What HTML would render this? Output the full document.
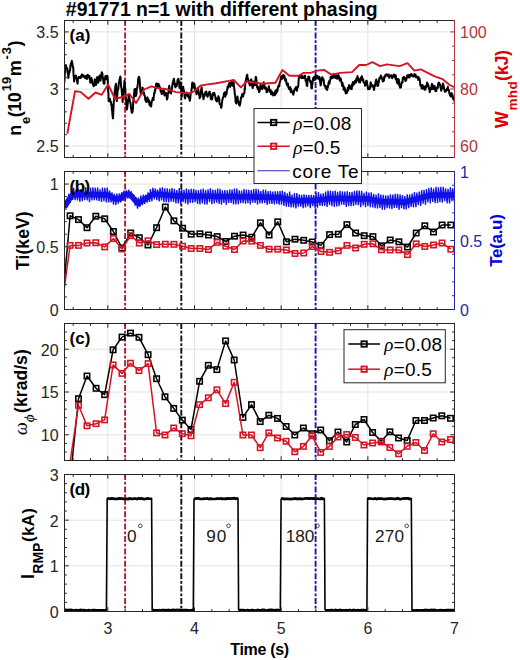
<!DOCTYPE html>
<html><head><meta charset="utf-8"><style>html,body{margin:0;padding:0;background:#fff;width:520px;height:660px;overflow:hidden;position:relative}</style></head><body>
<svg width="520" height="660" viewBox="0 0 520 660" style="position:absolute;left:0;top:0;font-family:'Liberation Sans', sans-serif">
<rect width="520" height="660" fill="#ffffff"/>
<defs>
<clipPath id="clipa"><rect x="64.5" y="20.5" width="390.0" height="137.0"/></clipPath>
<clipPath id="clipb"><rect x="64.5" y="171.5" width="390.0" height="138.0"/></clipPath>
<clipPath id="clipc"><rect x="64.5" y="323.5" width="390.0" height="137.0"/></clipPath>
<clipPath id="clipd"><rect x="64.5" y="474.5" width="390.0" height="137.0"/></clipPath>
</defs>
<line x1="107.83" y1="20.5" x2="107.83" y2="157.5" stroke="#e2e2e2" stroke-width="1"/>
<line x1="194.50" y1="20.5" x2="194.50" y2="157.5" stroke="#e2e2e2" stroke-width="1"/>
<line x1="281.17" y1="20.5" x2="281.17" y2="157.5" stroke="#e2e2e2" stroke-width="1"/>
<line x1="367.83" y1="20.5" x2="367.83" y2="157.5" stroke="#e2e2e2" stroke-width="1"/>
<line x1="64.5" y1="146.08" x2="454.5" y2="146.08" stroke="#e2e2e2" stroke-width="1"/>
<line x1="64.5" y1="89.00" x2="454.5" y2="89.00" stroke="#e2e2e2" stroke-width="1"/>
<line x1="64.5" y1="31.92" x2="454.5" y2="31.92" stroke="#e2e2e2" stroke-width="1"/>
<line x1="107.83" y1="171.5" x2="107.83" y2="309.5" stroke="#e2e2e2" stroke-width="1"/>
<line x1="194.50" y1="171.5" x2="194.50" y2="309.5" stroke="#e2e2e2" stroke-width="1"/>
<line x1="281.17" y1="171.5" x2="281.17" y2="309.5" stroke="#e2e2e2" stroke-width="1"/>
<line x1="367.83" y1="171.5" x2="367.83" y2="309.5" stroke="#e2e2e2" stroke-width="1"/>
<line x1="64.5" y1="246.77" x2="454.5" y2="246.77" stroke="#e2e2e2" stroke-width="1"/>
<line x1="64.5" y1="184.05" x2="454.5" y2="184.05" stroke="#e2e2e2" stroke-width="1"/>
<line x1="107.83" y1="323.5" x2="107.83" y2="460.5" stroke="#e2e2e2" stroke-width="1"/>
<line x1="194.50" y1="323.5" x2="194.50" y2="460.5" stroke="#e2e2e2" stroke-width="1"/>
<line x1="281.17" y1="323.5" x2="281.17" y2="460.5" stroke="#e2e2e2" stroke-width="1"/>
<line x1="367.83" y1="323.5" x2="367.83" y2="460.5" stroke="#e2e2e2" stroke-width="1"/>
<line x1="64.5" y1="434.81" x2="454.5" y2="434.81" stroke="#e2e2e2" stroke-width="1"/>
<line x1="64.5" y1="392.00" x2="454.5" y2="392.00" stroke="#e2e2e2" stroke-width="1"/>
<line x1="64.5" y1="349.19" x2="454.5" y2="349.19" stroke="#e2e2e2" stroke-width="1"/>
<line x1="107.83" y1="474.5" x2="107.83" y2="611.5" stroke="#e2e2e2" stroke-width="1"/>
<line x1="194.50" y1="474.5" x2="194.50" y2="611.5" stroke="#e2e2e2" stroke-width="1"/>
<line x1="281.17" y1="474.5" x2="281.17" y2="611.5" stroke="#e2e2e2" stroke-width="1"/>
<line x1="367.83" y1="474.5" x2="367.83" y2="611.5" stroke="#e2e2e2" stroke-width="1"/>
<line x1="64.5" y1="565.83" x2="454.5" y2="565.83" stroke="#e2e2e2" stroke-width="1"/>
<line x1="64.5" y1="520.17" x2="454.5" y2="520.17" stroke="#e2e2e2" stroke-width="1"/>
<line x1="125.1" y1="20.0" x2="125.1" y2="157.5" stroke="#b41c30" stroke-width="1.9" stroke-dasharray="6,1.8,2.8,1.8"/>
<line x1="181.3" y1="20.0" x2="181.3" y2="157.5" stroke="#111" stroke-width="1.9" stroke-dasharray="6,1.8,2.8,1.8"/>
<line x1="315.6" y1="20.0" x2="315.6" y2="157.5" stroke="#1818b0" stroke-width="1.9" stroke-dasharray="6,1.8,2.8,1.8"/>
<line x1="125.1" y1="171.0" x2="125.1" y2="309.5" stroke="#b41c30" stroke-width="1.9" stroke-dasharray="6,1.8,2.8,1.8"/>
<line x1="181.3" y1="171.0" x2="181.3" y2="309.5" stroke="#111" stroke-width="1.9" stroke-dasharray="6,1.8,2.8,1.8"/>
<line x1="315.6" y1="171.0" x2="315.6" y2="309.5" stroke="#1818b0" stroke-width="1.9" stroke-dasharray="6,1.8,2.8,1.8"/>
<line x1="125.1" y1="323.0" x2="125.1" y2="460.5" stroke="#b41c30" stroke-width="1.9" stroke-dasharray="6,1.8,2.8,1.8"/>
<line x1="181.3" y1="323.0" x2="181.3" y2="460.5" stroke="#111" stroke-width="1.9" stroke-dasharray="6,1.8,2.8,1.8"/>
<line x1="315.6" y1="323.0" x2="315.6" y2="460.5" stroke="#1818b0" stroke-width="1.9" stroke-dasharray="6,1.8,2.8,1.8"/>
<line x1="125.1" y1="474.0" x2="125.1" y2="611.5" stroke="#b41c30" stroke-width="1.9" stroke-dasharray="6,1.8,2.8,1.8"/>
<line x1="181.3" y1="474.0" x2="181.3" y2="611.5" stroke="#111" stroke-width="1.9" stroke-dasharray="6,1.8,2.8,1.8"/>
<line x1="315.6" y1="474.0" x2="315.6" y2="611.5" stroke="#1818b0" stroke-width="1.9" stroke-dasharray="6,1.8,2.8,1.8"/>
<g clip-path="url(#clipa)">
<polyline points="64.30,82.70 64.60,77.84 64.90,72.99 65.20,71.24 65.50,66.50 65.92,65.11 66.35,67.82 66.78,67.61 67.20,68.80 67.47,69.07 67.75,73.43 68.03,73.57 68.30,78.00 68.60,76.27 68.90,73.17 69.20,71.84 69.50,72.30 69.80,70.23 70.10,70.35 70.40,65.39 70.70,65.40 70.97,62.98 71.25,63.69 71.53,64.01 71.80,60.80 72.10,62.58 72.40,63.17 72.70,67.27 73.00,66.50 73.28,68.16 73.55,75.65 73.82,76.78 74.10,81.50 74.40,78.44 74.70,76.89 75.00,76.34 75.30,75.80 75.58,77.80 75.85,75.43 76.12,77.83 76.40,78.00 76.70,80.09 77.00,80.31 77.30,82.57 77.60,83.80 77.88,80.06 78.15,78.32 78.42,77.27 78.70,76.90 79.15,78.00 79.60,77.12 80.05,76.87 80.50,78.00 80.92,77.54 81.35,76.08 81.78,74.53 82.20,74.60 82.62,76.53 83.05,76.67 83.48,75.15 83.90,76.90 84.33,77.09 84.75,76.72 85.17,78.18 85.60,76.30 86.05,77.51 86.50,75.62 86.95,78.96 87.40,76.90 87.83,74.87 88.25,75.97 88.67,77.26 89.10,75.80 89.40,75.92 89.70,79.20 90.00,78.86 90.30,82.70 90.58,82.30 90.85,81.57 91.12,79.51 91.40,78.00 91.70,81.05 92.00,79.79 92.30,82.87 92.60,83.30 92.88,84.43 93.15,85.07 93.42,85.20 93.70,86.10 94.00,85.94 94.30,84.70 94.60,80.81 94.90,79.20 95.18,81.41 95.45,80.08 95.72,84.48 96.00,85.00 96.30,83.65 96.60,83.22 96.90,80.41 97.20,76.90 97.47,77.36 97.75,79.27 98.03,82.03 98.30,82.70 98.60,78.90 98.90,79.32 99.20,76.37 99.50,76.30 99.78,75.56 100.05,76.32 100.32,80.61 100.60,80.40 100.90,76.67 101.20,75.19 101.50,73.82 101.80,72.30 102.08,75.43 102.35,73.22 102.62,76.34 102.90,78.00 103.20,79.68 103.50,82.66 103.80,83.82 104.10,83.80 104.40,83.60 104.70,79.03 105.00,77.79 105.30,76.30 105.58,75.95 105.85,78.67 106.12,79.31 106.40,77.50 106.70,75.74 107.00,75.71 107.30,75.82 107.60,76.90 107.72,78.85 107.85,83.18 107.97,86.83 108.10,89.60 108.25,91.38 108.40,93.07 108.55,97.85 108.70,101.10 109.00,99.92 109.30,100.26 109.60,101.46 109.90,98.80 110.18,100.55 110.45,100.62 110.72,101.97 111.00,102.30 111.30,105.14 111.60,104.30 111.90,110.21 112.20,110.40 112.40,113.69 112.60,116.12 112.80,117.77 113.00,118.40 113.22,113.58 113.45,109.29 113.68,103.60 113.90,101.10 114.20,98.84 114.50,93.34 114.80,90.48 115.10,89.60 115.32,86.81 115.55,85.15 115.78,84.51 116.00,83.80 116.20,86.07 116.40,90.15 116.60,95.17 116.80,101.10 117.08,96.39 117.35,94.72 117.62,90.29 117.90,89.60 118.23,89.50 118.55,86.47 118.88,82.51 119.20,82.30 119.47,79.71 119.75,78.70 120.03,77.33 120.30,76.50 120.60,77.64 120.90,83.86 121.20,87.39 121.50,88.00 121.78,91.32 122.05,94.88 122.32,96.52 122.60,101.90 122.90,96.60 123.20,94.23 123.50,90.39 123.80,88.00 124.03,87.79 124.25,82.99 124.47,80.63 124.70,81.10 124.90,86.35 125.10,87.58 125.30,89.00 125.50,93.80 125.80,97.75 126.10,99.12 126.40,105.18 126.70,108.80 126.97,109.58 127.25,107.62 127.53,105.43 127.80,103.10 128.10,99.98 128.40,98.44 128.70,95.49 129.00,95.00 129.28,97.98 129.55,98.60 129.82,101.46 130.10,101.90 130.40,102.84 130.70,104.08 131.00,108.51 131.30,108.80 131.58,111.91 131.85,112.17 132.12,112.83 132.40,112.30 132.70,110.59 133.00,107.05 133.30,101.52 133.60,99.60 133.88,97.08 134.15,93.74 134.42,89.63 134.70,89.20 135.00,88.75 135.30,91.64 135.60,93.27 135.90,96.10 136.18,94.96 136.45,94.15 136.72,89.78 137.00,88.00 137.30,87.71 137.60,85.64 137.90,83.19 138.20,78.80 138.47,77.90 138.75,76.96 139.03,76.72 139.30,77.70 139.60,79.75 139.90,83.24 140.20,88.62 140.50,91.50 140.78,93.92 141.05,94.22 141.32,93.13 141.60,93.80 141.90,93.05 142.20,92.28 142.50,87.54 142.80,88.00 143.10,89.91 143.40,92.23 143.70,92.82 144.00,92.70 144.28,95.28 144.55,95.45 144.82,95.50 145.10,98.40 145.40,100.33 145.70,98.83 146.00,101.58 146.30,100.80 146.58,102.09 146.85,98.57 147.12,97.72 147.40,97.30 147.70,100.51 148.00,100.63 148.30,99.23 148.60,101.90 148.88,100.48 149.15,100.90 149.42,104.66 149.70,103.10 150.00,105.08 150.30,102.62 150.60,106.33 150.90,105.40 151.18,106.46 151.45,103.82 151.72,101.26 152.00,100.80 152.30,100.72 152.60,98.50 152.90,97.67 153.20,99.60 153.47,100.04 153.75,96.84 154.03,94.55 154.30,92.70 154.60,93.52 154.90,90.05 155.20,90.89 155.50,88.00 155.78,88.38 156.05,84.42 156.32,83.48 156.60,83.50 156.90,83.40 157.20,84.01 157.50,86.45 157.80,86.90 158.08,85.37 158.35,85.68 158.62,83.93 158.90,85.20 159.20,87.79 159.50,85.93 159.80,87.11 160.10,88.00 160.40,89.26 160.70,91.61 161.00,90.26 161.30,91.50 161.58,94.00 161.85,92.66 162.12,93.37 162.40,93.80 162.70,93.33 163.00,90.44 163.30,91.80 163.60,91.50 163.88,90.92 164.15,90.97 164.42,95.50 164.70,95.00 165.00,92.92 165.30,93.73 165.60,94.31 165.90,92.70 166.18,94.68 166.45,95.35 166.72,97.96 167.00,99.60 167.30,98.41 167.60,98.01 167.90,93.44 168.20,93.80 168.47,92.08 168.75,88.64 169.03,86.77 169.30,85.80 169.60,88.78 169.90,89.29 170.20,91.26 170.50,92.70 170.78,93.32 171.05,93.45 171.32,90.71 171.60,90.40 171.90,88.89 172.20,86.38 172.50,84.38 172.80,82.30 173.08,82.31 173.35,80.33 173.62,79.83 173.90,78.80 174.20,80.45 174.50,84.33 174.80,84.97 175.10,85.80 175.32,87.23 175.55,87.23 175.78,83.79 176.00,84.60 176.30,84.60 176.60,86.09 176.90,85.34 177.20,83.50 177.47,80.66 177.75,79.41 178.03,79.71 178.30,78.80 178.60,79.13 178.90,82.21 179.20,83.74 179.50,88.00 179.78,87.35 180.05,86.46 180.32,85.55 180.60,82.30 180.90,84.16 181.20,90.19 181.50,93.39 181.80,96.10 182.08,92.16 182.35,93.26 182.62,91.35 182.90,86.90 183.20,86.76 183.50,91.28 183.80,89.88 184.10,91.50 184.38,93.17 184.65,97.20 184.92,98.20 185.20,98.40 185.50,95.42 185.80,95.24 186.10,94.20 186.40,92.70 186.68,92.53 186.95,92.45 187.22,93.59 187.50,95.00 187.80,96.60 188.10,93.94 188.40,96.97 188.70,97.30 188.97,97.90 189.25,96.83 189.53,99.15 189.80,100.80 190.10,99.35 190.40,96.81 190.70,92.72 191.00,92.70 191.28,92.63 191.55,89.43 191.82,87.97 192.10,83.50 192.40,82.53 192.70,84.12 193.00,83.93 193.30,86.90 193.60,87.61 193.90,84.69 194.20,83.47 194.50,84.60 194.78,85.97 195.05,89.94 195.32,91.24 195.60,91.50 195.90,90.69 196.20,90.49 196.50,94.33 196.80,92.70 197.08,92.15 197.35,91.87 197.62,88.19 197.90,89.20 198.20,88.61 198.50,92.97 198.80,93.21 199.10,95.00 199.38,93.61 199.65,98.17 199.92,97.34 200.20,97.30 200.50,96.36 200.80,90.74 201.10,91.96 201.40,88.00 201.68,87.46 201.95,92.57 202.22,92.14 202.50,93.80 202.80,94.21 203.10,96.34 203.40,99.21 203.70,98.40 203.97,96.48 204.25,94.99 204.53,95.97 204.80,95.00 205.10,93.22 205.40,92.05 205.70,91.72 206.00,92.70 206.28,91.48 206.55,93.03 206.82,94.39 207.10,96.10 207.40,94.93 207.70,96.74 208.00,94.31 208.30,95.00 208.58,94.43 208.85,92.37 209.12,92.57 209.40,92.70 209.70,91.63 210.00,93.85 210.30,93.92 210.60,97.30 210.90,98.95 211.20,98.68 211.50,97.60 211.80,99.60 212.08,98.03 212.35,98.70 212.62,93.44 212.90,93.80 213.20,94.99 213.50,92.94 213.80,92.95 214.10,92.70 214.38,95.09 214.65,93.91 214.92,95.28 215.20,96.10 215.50,97.84 215.80,100.07 216.10,98.00 216.40,99.60 216.68,101.43 216.95,101.15 217.22,101.13 217.50,100.80 217.80,99.49 218.10,98.35 218.40,96.13 218.70,97.30 218.97,97.32 219.25,98.78 219.53,103.58 219.80,104.20 220.10,103.95 220.40,104.40 220.70,104.91 221.00,107.70 221.28,107.82 221.55,106.50 221.82,104.13 222.10,101.90 222.40,99.75 222.70,98.41 223.00,97.50 223.30,97.30 223.58,95.96 223.85,93.42 224.12,93.60 224.40,92.70 224.70,92.19 225.00,95.97 225.30,96.60 225.60,95.00 225.90,94.34 226.20,92.07 226.50,94.52 226.80,91.50 227.08,89.75 227.35,89.09 227.62,86.58 227.90,88.00 228.20,86.33 228.50,85.63 228.80,84.64 229.10,83.50 229.38,82.97 229.65,85.22 229.92,83.77 230.20,86.90 230.50,84.67 230.80,82.71 231.10,82.99 231.40,82.30 231.68,81.07 231.95,81.85 232.22,84.02 232.50,85.80 232.80,83.70 233.10,84.44 233.40,83.31 233.70,82.30 233.92,85.63 234.15,87.37 234.38,89.82 234.60,91.00 234.80,94.69 235.00,94.39 235.20,96.05 235.40,98.80 235.62,102.18 235.85,99.49 236.08,103.28 236.30,103.40 236.60,102.33 236.90,97.85 237.20,99.77 237.50,96.50 237.78,99.75 238.05,99.99 238.32,101.93 238.60,102.30 238.90,104.59 239.20,102.34 239.50,104.96 239.80,105.70 240.08,103.72 240.35,103.24 240.62,101.10 240.90,97.70 241.20,98.33 241.50,96.34 241.80,96.88 242.10,94.20 242.38,95.62 242.65,96.24 242.92,94.68 243.20,96.50 243.50,93.49 243.80,93.11 244.10,93.31 244.40,93.10 244.68,88.38 244.95,88.84 245.22,84.67 245.50,81.50 245.80,80.66 246.10,79.23 246.40,78.06 246.70,75.80 246.97,76.30 247.25,74.62 247.53,78.82 247.80,78.00 248.10,80.32 248.40,80.36 248.70,81.69 249.00,82.70 249.28,84.01 249.55,81.85 249.82,85.51 250.10,85.00 250.40,82.41 250.70,80.14 251.00,79.57 251.30,79.20 251.60,82.28 251.90,81.89 252.20,86.38 252.50,87.30 252.78,88.04 253.05,84.37 253.32,82.41 253.60,81.50 253.90,82.28 254.20,84.10 254.50,85.35 254.80,85.00 255.08,83.51 255.35,81.61 255.62,76.98 255.90,76.90 256.20,77.88 256.50,80.97 256.80,85.82 257.10,87.30 257.38,86.98 257.65,88.76 257.93,86.78 258.20,89.60 258.50,88.15 258.80,89.69 259.10,92.12 259.40,91.90 259.67,91.06 259.95,89.26 260.23,85.76 260.50,85.00 260.80,85.93 261.10,86.54 261.40,87.40 261.70,88.40 261.98,86.07 262.25,89.06 262.52,85.29 262.80,86.10 263.10,87.72 263.40,86.96 263.70,82.16 264.00,83.80 264.27,84.49 264.55,87.02 264.83,88.58 265.10,87.30 265.40,87.64 265.70,87.39 266.00,87.69 266.30,89.60 266.57,92.22 266.85,89.42 267.12,91.70 267.40,91.90 267.70,89.10 268.00,89.71 268.30,90.53 268.60,87.30 268.90,86.18 269.20,89.92 269.50,89.07 269.80,89.60 270.07,91.95 270.35,91.69 270.62,90.09 270.90,91.90 271.20,94.30 271.50,92.99 271.80,91.44 272.10,94.20 272.38,92.22 272.65,94.76 272.93,94.87 273.20,95.40 273.50,94.19 273.80,93.15 274.10,93.78 274.40,94.20 274.67,93.08 274.95,95.22 275.23,91.08 275.50,93.10 275.80,93.68 276.10,93.51 276.40,89.63 276.70,90.80 276.98,92.16 277.25,90.58 277.52,90.85 277.80,88.40 278.10,86.58 278.40,86.11 278.70,85.36 279.00,85.00 279.27,86.42 279.55,83.66 279.83,81.73 280.10,81.50 280.40,80.29 280.70,78.72 281.00,76.80 281.30,78.00 281.57,75.89 281.85,78.99 282.12,76.19 282.40,76.90 282.70,78.63 283.00,75.20 283.30,75.00 283.60,75.80 283.90,76.40 284.20,75.47 284.50,76.87 284.80,78.00 285.07,80.40 285.35,80.37 285.62,80.34 285.90,79.20 286.20,80.95 286.50,83.40 286.80,84.68 287.10,83.80 287.38,84.60 287.65,85.96 287.93,83.45 288.20,86.10 288.50,87.74 288.80,87.02 289.10,88.99 289.40,88.40 289.67,89.36 289.95,88.02 290.23,87.23 290.50,89.60 290.80,92.14 291.10,89.04 291.40,91.20 291.70,91.90 292.07,91.48 292.45,91.57 292.82,93.90 293.20,93.10 293.48,94.72 293.75,90.85 294.02,92.09 294.30,90.80 294.60,89.28 294.90,89.86 295.20,88.51 295.50,88.40 295.77,87.17 296.05,87.44 296.33,87.96 296.60,89.60 296.90,90.89 297.20,88.44 297.50,86.59 297.80,87.30 298.07,86.84 298.35,84.93 298.62,80.09 298.90,78.00 299.20,76.07 299.50,76.04 299.80,75.29 300.10,76.90 300.38,76.45 300.65,75.57 300.93,76.52 301.20,78.00 301.50,76.34 301.80,77.22 302.10,78.13 302.40,75.80 302.67,77.50 302.95,76.50 303.23,77.05 303.50,78.00 303.80,77.84 304.10,76.88 304.40,76.43 304.70,76.90 304.98,75.46 305.25,77.03 305.52,80.78 305.80,79.20 306.10,79.20 306.40,82.67 306.70,84.97 307.00,86.10 307.27,85.74 307.55,80.74 307.83,78.97 308.10,78.00 308.40,76.57 308.70,76.99 309.00,76.93 309.30,76.90 309.60,80.14 309.90,80.80 310.20,82.07 310.50,81.50 310.77,81.03 311.05,82.80 311.33,87.64 311.60,88.40 311.90,88.50 312.20,84.83 312.50,83.63 312.80,81.50 313.07,78.05 313.35,78.70 313.62,80.01 313.90,76.90 314.20,78.67 314.50,79.09 314.80,79.90 315.10,78.00 315.38,76.57 315.65,75.65 315.93,75.59 316.20,76.90 316.50,76.73 316.80,77.19 317.10,78.11 317.40,75.80 317.67,77.37 317.95,77.58 318.23,78.67 318.50,78.00 318.80,78.10 319.10,78.84 319.40,76.78 319.70,79.20 319.98,81.95 320.25,80.87 320.52,85.48 320.80,85.00 321.10,83.92 321.40,80.60 321.70,78.04 322.00,78.00 322.27,77.16 322.55,79.23 322.83,79.81 323.10,79.20 323.40,78.87 323.70,80.12 324.00,83.66 324.30,85.00 324.57,85.96 324.85,85.64 325.12,85.45 325.40,87.30 325.70,88.34 326.00,86.20 326.30,88.11 326.60,89.60 326.90,88.54 327.20,89.96 327.50,87.64 327.80,86.10 328.07,87.02 328.35,84.29 328.62,82.33 328.90,82.70 329.20,80.96 329.50,83.67 329.80,81.92 330.10,80.40 330.38,78.91 330.65,77.00 330.93,78.59 331.20,78.00 331.50,78.38 331.80,76.78 332.10,75.61 332.40,76.30 332.67,76.94 332.95,78.01 333.23,74.67 333.50,75.80 333.80,73.78 334.10,75.31 334.40,75.81 334.70,76.30 334.98,77.29 335.25,75.21 335.52,78.12 335.80,76.90 336.10,78.00 336.40,76.92 336.70,75.54 337.00,76.90 337.27,78.79 337.55,75.48 337.83,77.55 338.10,75.80 338.40,75.11 338.70,75.62 339.00,78.65 339.30,78.00 339.57,77.36 339.85,80.68 340.12,78.88 340.40,79.20 340.70,78.64 341.00,79.68 341.30,81.44 341.60,82.70 341.90,84.04 342.20,85.91 342.50,82.80 342.80,85.00 343.07,85.36 343.35,85.38 343.62,89.73 343.90,88.40 344.20,87.35 344.50,87.54 344.80,88.18 345.10,90.80 345.38,90.58 345.65,93.18 345.93,93.39 346.20,91.90 346.50,92.40 346.80,93.04 347.10,92.16 347.40,89.60 347.67,88.51 347.95,87.55 348.23,90.71 348.50,88.40 348.80,88.96 349.10,85.10 349.40,87.43 349.70,86.10 349.93,86.04 350.15,86.52 350.38,86.83 350.60,88.10 350.75,86.85 350.90,86.36 351.05,87.91 351.20,89.20 351.48,87.37 351.75,89.00 352.02,84.02 352.30,84.60 352.60,86.16 352.90,82.10 353.20,82.22 353.50,82.30 353.77,84.05 354.05,84.33 354.33,82.81 354.60,83.40 354.90,80.75 355.20,82.13 355.50,81.09 355.80,81.10 356.07,82.45 356.35,78.54 356.62,78.75 356.90,78.80 357.20,80.35 357.50,76.09 357.80,77.56 358.10,77.70 358.38,80.28 358.65,81.23 358.93,79.04 359.20,82.30 359.50,79.59 359.80,79.14 360.10,82.51 360.40,80.00 360.67,78.01 360.95,79.39 361.23,79.21 361.50,76.50 361.80,76.33 362.10,76.60 362.40,80.33 362.70,78.80 362.98,80.21 363.25,79.46 363.52,82.42 363.80,82.30 364.10,82.33 364.40,83.02 364.70,82.64 365.00,85.80 365.27,85.80 365.55,85.37 365.83,82.89 366.10,81.10 366.40,84.01 366.70,80.66 367.00,82.50 367.30,84.60 367.60,85.36 367.90,88.45 368.20,89.31 368.50,88.10 368.77,87.85 369.05,87.50 369.33,88.60 369.60,89.20 369.90,87.44 370.20,87.72 370.50,82.57 370.80,82.30 371.07,84.27 371.35,84.55 371.62,85.51 371.90,84.60 372.20,86.43 372.50,86.24 372.80,85.53 373.10,86.90 373.38,86.64 373.65,87.41 373.93,89.92 374.20,89.20 374.50,85.81 374.80,84.91 375.10,86.01 375.40,83.40 375.67,81.66 375.95,80.25 376.23,79.53 376.50,81.10 376.80,82.22 377.10,82.05 377.40,85.93 377.70,84.60 377.98,85.79 378.25,85.69 378.52,81.79 378.80,82.30 379.10,79.24 379.40,78.14 379.70,78.84 380.00,77.70 380.27,78.36 380.55,76.86 380.83,75.58 381.10,76.50 381.40,76.69 381.70,78.20 382.00,79.03 382.30,78.80 382.57,80.52 382.85,81.55 383.12,81.28 383.40,81.10 383.70,78.21 384.00,80.37 384.30,76.70 384.60,76.50 384.90,76.53 385.20,75.37 385.50,76.77 385.80,75.40 386.38,74.17 386.95,74.54 387.53,74.68 388.10,76.00 388.68,74.41 389.25,77.77 389.82,76.36 390.40,76.00 390.97,75.20 391.55,75.52 392.12,78.27 392.70,76.00 393.27,75.88 393.85,74.46 394.43,76.97 395.00,75.40 395.27,76.68 395.55,78.81 395.83,75.30 396.10,77.70 396.40,78.73 396.70,81.47 397.00,82.72 397.30,82.30 397.57,83.63 397.85,79.04 398.12,79.63 398.40,80.00 398.70,79.40 399.00,80.87 399.30,85.63 399.60,84.60 399.88,85.56 400.15,87.73 400.43,85.74 400.70,86.90 401.00,87.43 401.30,84.37 401.60,82.35 401.90,82.30 402.20,82.70 402.50,82.60 402.80,77.86 403.10,78.80 403.38,78.97 403.65,78.80 403.93,76.68 404.20,77.70 404.50,77.95 404.80,77.75 405.10,78.89 405.40,81.10 405.67,79.40 405.95,80.41 406.23,80.07 406.50,78.80 406.80,76.86 407.10,75.40 407.40,76.28 407.70,76.50 407.98,77.32 408.25,75.05 408.52,75.64 408.80,76.50 409.20,74.96 409.60,77.51 410.00,76.20 410.40,75.80 410.97,73.92 411.55,74.22 412.12,75.69 412.70,76.30 413.27,76.41 413.85,76.69 414.43,74.04 415.00,75.80 415.57,74.68 416.15,77.55 416.73,76.66 417.30,77.50 417.60,76.63 417.90,76.86 418.20,79.96 418.50,78.00 418.77,77.44 419.05,78.91 419.33,78.24 419.60,79.20 419.90,80.27 420.20,83.78 420.50,85.83 420.80,85.00 421.07,85.22 421.35,85.31 421.62,88.60 421.90,88.40 422.20,86.46 422.50,84.98 422.80,88.52 423.10,86.10 423.38,86.05 423.65,88.17 423.93,86.57 424.20,87.30 424.50,89.64 424.80,88.27 425.10,87.47 425.40,89.60 425.67,86.22 425.95,87.54 426.23,86.80 426.50,85.00 426.80,86.59 427.10,82.51 427.40,84.66 427.70,83.80 427.98,84.36 428.25,86.12 428.52,85.62 428.80,88.40 429.10,88.00 429.40,89.70 429.70,92.16 430.00,90.80 430.27,88.13 430.55,89.01 430.83,89.58 431.10,87.30 431.40,88.87 431.70,84.76 432.00,83.86 432.30,85.00 432.57,87.89 432.85,88.89 433.12,87.47 433.40,88.40 433.70,85.77 434.00,89.21 434.30,86.16 434.60,86.10 434.90,89.13 435.20,89.00 435.50,91.12 435.80,90.80 436.07,88.64 436.35,90.91 436.62,87.72 436.90,88.40 437.20,87.11 437.50,88.29 437.80,87.36 438.10,85.00 438.38,82.97 438.65,82.55 438.93,82.81 439.20,82.70 439.50,83.93 439.80,84.46 440.10,84.42 440.40,87.30 440.67,86.71 440.95,89.48 441.23,90.85 441.50,89.60 441.80,86.34 442.10,87.59 442.40,87.33 442.70,85.00 442.98,83.45 443.25,87.71 443.52,84.97 443.80,87.30 444.10,88.91 444.40,89.83 444.70,91.33 445.00,91.90 445.27,90.73 445.55,90.98 445.83,91.46 446.10,90.80 446.40,89.86 446.70,90.33 447.00,88.76 447.30,88.40 447.57,88.42 447.85,86.81 448.12,89.85 448.40,89.60 448.70,90.43 449.00,90.13 449.30,93.44 449.60,93.10 449.88,95.24 450.15,94.61 450.43,94.18 450.70,96.50 451.00,95.80 451.30,93.54 451.60,93.07 451.90,94.20 452.20,95.03 452.50,94.62 452.80,97.38 453.10,98.80 453.58,99.42 454.05,97.84 454.52,101.15 455.00,101.10" fill="none" stroke="#000" stroke-width="2.0" stroke-linejoin="round"/>
<polyline points="67.30,133.60 75.00,91.30 80.50,91.90 88.50,98.80 95.50,92.50 101.80,94.80 108.10,84.40 115.10,99.00 122.00,97.00 129.50,94.00 136.00,103.00 144.00,89.50 151.50,86.30 157.80,88.00 166.40,89.20 176.00,92.10 189.80,93.30 194.50,91.00 200.20,85.80 206.00,84.60 216.40,83.20 230.20,80.60 233.70,80.00 240.90,87.30 246.70,81.50 262.80,83.80 275.50,82.70 282.40,70.00 289.40,75.80 298.90,75.80 303.50,72.90 310.50,72.90 317.40,70.60 324.30,70.00 331.20,74.60 340.40,72.90 352.00,72.10 359.20,65.00 366.10,65.00 372.50,62.10 380.00,66.10 386.90,64.40 399.60,66.10 407.50,63.10 414.40,70.60 420.80,69.40 434.60,76.30 442.70,79.20 449.60,85.00 456.00,88.00" fill="none" stroke="#d41424" stroke-width="1.9" stroke-linejoin="round"/>
</g>
<g clip-path="url(#clipb)">
<polyline points="64.50,207.00 66.50,203.57 68.50,200.25 70.50,197.25 72.50,194.97 74.50,194.84 76.50,194.72 78.50,194.59 80.50,194.51 82.50,194.53 84.50,194.55 86.50,194.57 88.50,194.59 90.50,194.61 92.50,194.63 94.50,194.66 96.50,194.68 98.50,194.70 100.50,194.72 102.50,194.74 104.50,194.76 106.50,194.78 108.50,195.11 110.50,196.34 112.50,197.57 114.50,198.54 116.50,198.71 118.50,198.88 120.50,198.50 122.50,196.50 124.50,194.50 126.50,194.15 128.50,194.35 130.50,195.08 132.50,197.41 134.50,199.73 136.50,202.06 138.50,203.46 140.50,202.09 142.50,200.71 144.50,199.34 146.50,198.06 148.50,196.81 150.50,195.56 152.50,194.31 154.50,194.11 156.50,194.25 158.50,194.39 160.50,194.54 162.50,194.69 164.50,194.84 166.50,194.99 168.50,195.14 170.50,195.29 172.50,195.44 174.50,195.59 176.50,195.74 178.50,195.89 180.50,196.01 182.50,196.03 184.50,196.05 186.50,196.07 188.50,196.10 190.50,196.12 192.50,196.14 194.50,196.17 196.50,196.19 198.50,196.21 200.50,196.23 202.50,196.26 204.50,196.28 206.50,196.30 208.50,196.33 210.50,196.35 212.50,196.37 214.50,196.39 216.50,196.42 218.50,196.44 220.50,196.46 222.50,196.49 224.50,196.51 226.50,196.53 228.50,196.55 230.50,196.58 232.50,196.60 234.50,196.62 236.50,196.65 238.50,196.67 240.50,196.69 242.50,196.71 244.50,196.74 246.50,196.76 248.50,196.78 250.50,196.81 252.50,196.86 254.50,196.91 256.50,196.95 258.50,197.00 260.50,197.05 262.50,197.09 264.50,197.14 266.50,197.19 268.50,197.23 270.50,197.28 272.50,197.32 274.50,197.37 276.50,197.42 278.50,197.47 280.50,197.61 282.50,198.03 284.50,198.46 286.50,198.89 288.50,199.31 290.50,199.74 292.50,200.17 294.50,200.59 296.50,200.69 298.50,200.66 300.50,200.64 302.50,200.62 304.50,200.60 306.50,200.59 308.50,200.56 310.50,200.54 312.50,200.53 314.50,200.50 316.50,200.30 318.50,200.03 320.50,199.77 322.50,199.50 324.50,199.23 326.50,198.97 328.50,198.70 330.50,198.50 332.50,198.52 334.50,198.54 336.50,198.55 338.50,198.57 340.50,198.58 342.50,198.60 344.50,198.61 346.50,198.63 348.50,198.65 350.50,198.66 352.50,198.68 354.50,198.69 356.50,198.71 358.50,198.73 360.50,198.74 362.50,198.76 364.50,198.77 366.50,198.79 368.50,198.91 370.50,199.36 372.50,199.81 374.50,200.26 376.50,200.71 378.50,201.16 380.50,201.51 382.50,201.57 384.50,201.63 386.50,201.68 388.50,201.74 390.50,201.79 392.50,201.85 394.50,201.91 396.50,201.96 398.50,202.02 400.50,202.07 402.50,202.13 404.50,202.19 406.50,201.78 408.50,201.22 410.50,200.66 412.50,200.10 414.50,199.54 416.50,198.98 418.50,198.42 420.50,197.88 422.50,197.38 424.50,196.88 426.50,196.38 428.50,195.88 430.50,195.38 432.50,195.00 434.50,195.00 436.50,195.00 438.50,195.00 440.50,195.00 442.50,195.00 444.50,195.00 446.50,195.00 448.50,195.00 450.50,195.00 452.50,195.00 454.50,195.00" fill="none" stroke="#1010e8" stroke-width="5.5" stroke-linejoin="round"/>
<polyline points="64.00,202.91 65.55,208.12 66.40,200.57 67.95,205.59 68.80,193.84 70.35,202.90 71.20,190.14 72.75,199.92 73.60,187.84 75.15,200.16 76.00,189.69 77.55,200.47 78.40,188.94 79.95,201.82 80.80,189.16 82.35,201.10 83.20,189.13 84.75,200.06 85.60,187.17 87.15,200.41 88.00,189.11 89.55,202.24 90.40,187.69 91.95,200.54 92.80,187.23 94.35,200.21 95.20,187.55 96.75,200.44 97.60,187.25 99.15,201.25 100.00,189.21 101.55,202.01 102.40,187.60 103.95,201.29 104.80,187.76 106.35,202.49 107.20,187.45 108.75,202.53 109.60,190.59 111.15,202.32 112.00,192.37 113.55,204.68 114.40,193.73 115.95,205.01 116.80,193.49 118.35,203.71 119.20,193.47 120.75,202.44 121.60,192.33 123.15,201.01 124.00,190.51 125.55,200.43 126.40,190.24 127.95,198.64 128.80,189.71 130.35,198.27 131.20,191.08 132.75,200.93 133.60,194.29 135.15,205.66 136.00,197.19 137.55,208.60 138.40,197.48 139.95,207.05 140.80,195.58 142.35,205.14 143.20,194.52 144.75,203.88 145.60,194.75 147.15,202.63 148.00,192.30 149.55,201.96 150.40,188.99 151.95,201.31 152.80,187.71 154.35,199.45 155.20,188.28 156.75,200.05 157.60,189.44 159.15,201.35 160.00,187.77 161.55,200.36 162.40,187.32 163.95,202.29 164.80,188.21 166.35,202.33 167.20,188.27 168.75,202.33 169.60,188.90 171.15,201.72 172.00,188.01 173.55,201.93 174.40,188.75 175.95,203.46 176.80,189.96 178.35,203.48 179.20,188.05 180.75,204.07 181.60,189.31 183.15,202.16 184.00,189.70 185.55,203.36 186.40,188.43 187.95,204.36 188.80,189.41 190.35,203.01 191.20,188.70 192.75,202.83 193.60,188.96 195.15,202.13 196.00,189.72 197.55,203.88 198.40,190.17 199.95,204.42 200.80,189.27 202.35,203.54 203.20,188.56 204.75,204.44 205.60,189.94 207.15,204.58 208.00,189.40 209.55,202.29 210.40,188.40 211.95,204.17 212.80,189.60 214.35,203.43 215.20,189.71 216.75,202.69 217.60,188.57 219.15,203.97 220.00,188.91 221.55,204.65 222.40,190.41 223.95,202.84 224.80,190.00 226.35,204.81 227.20,190.35 228.75,202.99 229.60,189.43 231.15,203.03 232.00,189.43 233.55,204.35 234.40,188.58 235.95,204.36 236.80,188.45 238.35,204.13 239.20,190.25 240.75,203.26 241.60,190.52 243.15,203.24 244.00,189.10 245.55,203.66 246.40,189.55 247.95,203.11 248.80,189.79 250.35,204.44 251.20,190.13 252.75,202.75 253.60,189.13 255.15,203.02 256.00,188.68 257.55,204.63 258.40,189.29 259.95,203.47 260.80,191.11 262.35,203.52 263.20,189.63 264.75,203.24 265.60,189.69 267.15,204.90 268.00,191.19 269.55,203.98 270.40,190.71 271.95,203.95 272.80,191.48 274.35,204.49 275.20,191.19 276.75,203.98 277.60,191.29 279.15,204.69 280.00,191.01 281.55,204.65 282.40,190.56 283.95,205.98 284.80,191.94 286.35,206.75 287.20,193.25 288.75,207.01 289.60,191.64 291.15,207.54 292.00,194.48 293.55,207.38 294.40,193.11 295.95,208.42 296.80,192.99 298.35,206.73 299.20,194.44 300.75,206.70 301.60,194.68 303.15,208.25 304.00,194.29 305.55,207.49 306.40,194.83 307.95,206.32 308.80,194.99 310.35,208.18 311.20,194.91 312.75,206.04 313.60,195.07 315.15,208.02 316.00,193.03 317.55,207.80 318.40,192.17 319.95,205.75 320.80,193.69 322.35,206.08 323.20,193.29 324.75,205.88 325.60,191.51 327.15,207.00 328.00,190.60 329.55,205.15 330.40,190.52 331.95,206.22 332.80,191.08 334.35,206.98 335.20,190.68 336.75,206.35 337.60,191.85 339.15,206.15 340.00,190.88 341.55,204.68 342.40,191.36 343.95,204.98 344.80,191.66 346.35,207.05 347.20,191.17 348.75,206.06 349.60,192.09 351.15,206.30 352.00,191.94 353.55,205.84 354.40,190.73 355.95,205.05 356.80,190.44 358.35,205.17 359.20,190.66 360.75,207.24 361.60,190.75 363.15,205.36 364.00,192.71 365.55,207.27 366.40,191.51 367.95,206.07 368.80,192.49 370.35,207.33 371.20,192.31 372.75,207.42 373.60,193.73 375.15,208.14 376.00,194.59 377.55,208.58 378.40,193.35 379.95,208.04 380.80,194.47 382.35,209.59 383.20,194.88 384.75,209.73 385.60,195.33 387.15,208.26 388.00,195.39 389.55,208.50 390.40,194.38 391.95,209.13 392.80,194.54 394.35,207.98 395.20,193.84 396.75,208.05 397.60,193.76 399.15,209.82 400.00,194.42 401.55,208.15 402.40,195.08 403.95,209.52 404.80,196.10 406.35,209.56 407.20,194.41 408.75,208.17 409.60,194.44 411.15,206.98 412.00,193.46 413.55,207.35 414.40,191.96 415.95,207.19 416.80,192.55 418.35,205.28 419.20,191.59 420.75,205.89 421.60,190.18 423.15,203.81 424.00,189.91 425.55,204.84 426.40,189.00 427.95,202.37 428.80,187.82 430.35,203.52 431.20,187.36 432.75,201.84 433.60,188.51 435.15,203.21 436.00,186.79 437.55,202.98 438.40,187.22 439.95,202.29 440.80,186.80 442.35,202.78 443.20,186.87 444.75,201.16 445.60,188.22 447.15,203.35 448.00,188.81 449.55,203.35 450.40,187.36 451.95,201.14 452.80,188.39 454.35,201.77 455.20,187.49" fill="none" stroke="#1010e8" stroke-width="1.3" stroke-linejoin="miter"/>
</g>
<g clip-path="url(#clipb)"><polyline points="61.45,315.00 70.10,215.80 78.50,219.60 87.00,227.70 95.80,216.20 104.70,218.80 113.40,231.50 122.00,248.00 130.70,233.00 139.30,237.70 148.00,245.00 156.60,227.70 165.30,207.00 173.90,220.80 182.60,228.20 191.20,234.20 199.90,233.80 208.50,235.00 217.20,236.60 225.80,241.50 234.50,236.20 243.10,235.00 251.80,237.20 260.40,222.80 269.10,235.00 277.70,221.80 286.40,241.80 295.00,239.20 303.70,240.30 312.30,242.00 321.00,245.40 329.60,234.60 338.30,234.20 346.90,224.60 355.60,233.00 364.20,235.70 372.90,236.60 381.50,245.80 390.20,240.00 398.90,241.80 407.50,247.00 416.20,233.00 424.80,225.80 433.50,232.00 442.10,225.00 450.80,225.00" fill="none" stroke="#000" stroke-width="1.5" stroke-linejoin="round"/>
<rect x="67.40" y="213.10" width="5.4" height="5.4" fill="none" stroke="#000" stroke-width="1.55"/>
<rect x="75.80" y="216.90" width="5.4" height="5.4" fill="none" stroke="#000" stroke-width="1.55"/>
<rect x="84.30" y="225.00" width="5.4" height="5.4" fill="none" stroke="#000" stroke-width="1.55"/>
<rect x="93.10" y="213.50" width="5.4" height="5.4" fill="none" stroke="#000" stroke-width="1.55"/>
<rect x="102.00" y="216.10" width="5.4" height="5.4" fill="none" stroke="#000" stroke-width="1.55"/>
<rect x="110.70" y="228.80" width="5.4" height="5.4" fill="none" stroke="#000" stroke-width="1.55"/>
<rect x="119.30" y="245.30" width="5.4" height="5.4" fill="none" stroke="#000" stroke-width="1.55"/>
<rect x="128.00" y="230.30" width="5.4" height="5.4" fill="none" stroke="#000" stroke-width="1.55"/>
<rect x="136.60" y="235.00" width="5.4" height="5.4" fill="none" stroke="#000" stroke-width="1.55"/>
<rect x="145.30" y="242.30" width="5.4" height="5.4" fill="none" stroke="#000" stroke-width="1.55"/>
<rect x="153.90" y="225.00" width="5.4" height="5.4" fill="none" stroke="#000" stroke-width="1.55"/>
<rect x="162.60" y="204.30" width="5.4" height="5.4" fill="none" stroke="#000" stroke-width="1.55"/>
<rect x="171.20" y="218.10" width="5.4" height="5.4" fill="none" stroke="#000" stroke-width="1.55"/>
<rect x="179.90" y="225.50" width="5.4" height="5.4" fill="none" stroke="#000" stroke-width="1.55"/>
<rect x="188.50" y="231.50" width="5.4" height="5.4" fill="none" stroke="#000" stroke-width="1.55"/>
<rect x="197.20" y="231.10" width="5.4" height="5.4" fill="none" stroke="#000" stroke-width="1.55"/>
<rect x="205.80" y="232.30" width="5.4" height="5.4" fill="none" stroke="#000" stroke-width="1.55"/>
<rect x="214.50" y="233.90" width="5.4" height="5.4" fill="none" stroke="#000" stroke-width="1.55"/>
<rect x="223.10" y="238.80" width="5.4" height="5.4" fill="none" stroke="#000" stroke-width="1.55"/>
<rect x="231.80" y="233.50" width="5.4" height="5.4" fill="none" stroke="#000" stroke-width="1.55"/>
<rect x="240.40" y="232.30" width="5.4" height="5.4" fill="none" stroke="#000" stroke-width="1.55"/>
<rect x="249.10" y="234.50" width="5.4" height="5.4" fill="none" stroke="#000" stroke-width="1.55"/>
<rect x="257.70" y="220.10" width="5.4" height="5.4" fill="none" stroke="#000" stroke-width="1.55"/>
<rect x="266.40" y="232.30" width="5.4" height="5.4" fill="none" stroke="#000" stroke-width="1.55"/>
<rect x="275.00" y="219.10" width="5.4" height="5.4" fill="none" stroke="#000" stroke-width="1.55"/>
<rect x="283.70" y="239.10" width="5.4" height="5.4" fill="none" stroke="#000" stroke-width="1.55"/>
<rect x="292.30" y="236.50" width="5.4" height="5.4" fill="none" stroke="#000" stroke-width="1.55"/>
<rect x="301.00" y="237.60" width="5.4" height="5.4" fill="none" stroke="#000" stroke-width="1.55"/>
<rect x="309.60" y="239.30" width="5.4" height="5.4" fill="none" stroke="#000" stroke-width="1.55"/>
<rect x="318.30" y="242.70" width="5.4" height="5.4" fill="none" stroke="#000" stroke-width="1.55"/>
<rect x="326.90" y="231.90" width="5.4" height="5.4" fill="none" stroke="#000" stroke-width="1.55"/>
<rect x="335.60" y="231.50" width="5.4" height="5.4" fill="none" stroke="#000" stroke-width="1.55"/>
<rect x="344.20" y="221.90" width="5.4" height="5.4" fill="none" stroke="#000" stroke-width="1.55"/>
<rect x="352.90" y="230.30" width="5.4" height="5.4" fill="none" stroke="#000" stroke-width="1.55"/>
<rect x="361.50" y="233.00" width="5.4" height="5.4" fill="none" stroke="#000" stroke-width="1.55"/>
<rect x="370.20" y="233.90" width="5.4" height="5.4" fill="none" stroke="#000" stroke-width="1.55"/>
<rect x="378.80" y="243.10" width="5.4" height="5.4" fill="none" stroke="#000" stroke-width="1.55"/>
<rect x="387.50" y="237.30" width="5.4" height="5.4" fill="none" stroke="#000" stroke-width="1.55"/>
<rect x="396.20" y="239.10" width="5.4" height="5.4" fill="none" stroke="#000" stroke-width="1.55"/>
<rect x="404.80" y="244.30" width="5.4" height="5.4" fill="none" stroke="#000" stroke-width="1.55"/>
<rect x="413.50" y="230.30" width="5.4" height="5.4" fill="none" stroke="#000" stroke-width="1.55"/>
<rect x="422.10" y="223.10" width="5.4" height="5.4" fill="none" stroke="#000" stroke-width="1.55"/>
<rect x="430.80" y="229.30" width="5.4" height="5.4" fill="none" stroke="#000" stroke-width="1.55"/>
<rect x="439.40" y="222.30" width="5.4" height="5.4" fill="none" stroke="#000" stroke-width="1.55"/>
<rect x="448.10" y="222.30" width="5.4" height="5.4" fill="none" stroke="#000" stroke-width="1.55"/>
</g>
<g clip-path="url(#clipb)"><polyline points="61.45,309.70 70.10,245.40 78.50,245.40 87.00,243.00 95.80,242.70 104.70,246.90 113.40,238.50 122.00,249.00 130.70,235.70 139.30,243.00 148.00,240.80 156.60,244.60 165.30,244.20 173.90,244.30 182.60,246.20 191.20,248.50 199.90,248.50 208.50,249.50 217.20,242.30 225.80,246.20 234.50,249.50 243.10,241.00 251.80,241.20 260.40,245.40 269.10,249.20 277.70,249.20 286.40,250.00 295.00,253.50 303.70,253.00 312.30,246.50 321.00,251.50 329.60,252.30 338.30,250.80 346.90,245.40 355.60,248.00 364.20,244.30 372.90,243.80 381.50,249.80 390.20,250.00 398.90,250.00 407.50,254.60 416.20,243.80 424.80,246.50 433.50,245.00 442.10,243.00 450.80,249.20" fill="none" stroke="#d41424" stroke-width="1.5" stroke-linejoin="round"/>
<rect x="67.40" y="242.70" width="5.4" height="5.4" fill="none" stroke="#d41424" stroke-width="1.55"/>
<rect x="75.80" y="242.70" width="5.4" height="5.4" fill="none" stroke="#d41424" stroke-width="1.55"/>
<rect x="84.30" y="240.30" width="5.4" height="5.4" fill="none" stroke="#d41424" stroke-width="1.55"/>
<rect x="93.10" y="240.00" width="5.4" height="5.4" fill="none" stroke="#d41424" stroke-width="1.55"/>
<rect x="102.00" y="244.20" width="5.4" height="5.4" fill="none" stroke="#d41424" stroke-width="1.55"/>
<rect x="110.70" y="235.80" width="5.4" height="5.4" fill="none" stroke="#d41424" stroke-width="1.55"/>
<rect x="119.30" y="246.30" width="5.4" height="5.4" fill="none" stroke="#d41424" stroke-width="1.55"/>
<rect x="128.00" y="233.00" width="5.4" height="5.4" fill="none" stroke="#d41424" stroke-width="1.55"/>
<rect x="136.60" y="240.30" width="5.4" height="5.4" fill="none" stroke="#d41424" stroke-width="1.55"/>
<rect x="145.30" y="238.10" width="5.4" height="5.4" fill="none" stroke="#d41424" stroke-width="1.55"/>
<rect x="153.90" y="241.90" width="5.4" height="5.4" fill="none" stroke="#d41424" stroke-width="1.55"/>
<rect x="162.60" y="241.50" width="5.4" height="5.4" fill="none" stroke="#d41424" stroke-width="1.55"/>
<rect x="171.20" y="241.60" width="5.4" height="5.4" fill="none" stroke="#d41424" stroke-width="1.55"/>
<rect x="179.90" y="243.50" width="5.4" height="5.4" fill="none" stroke="#d41424" stroke-width="1.55"/>
<rect x="188.50" y="245.80" width="5.4" height="5.4" fill="none" stroke="#d41424" stroke-width="1.55"/>
<rect x="197.20" y="245.80" width="5.4" height="5.4" fill="none" stroke="#d41424" stroke-width="1.55"/>
<rect x="205.80" y="246.80" width="5.4" height="5.4" fill="none" stroke="#d41424" stroke-width="1.55"/>
<rect x="214.50" y="239.60" width="5.4" height="5.4" fill="none" stroke="#d41424" stroke-width="1.55"/>
<rect x="223.10" y="243.50" width="5.4" height="5.4" fill="none" stroke="#d41424" stroke-width="1.55"/>
<rect x="231.80" y="246.80" width="5.4" height="5.4" fill="none" stroke="#d41424" stroke-width="1.55"/>
<rect x="240.40" y="238.30" width="5.4" height="5.4" fill="none" stroke="#d41424" stroke-width="1.55"/>
<rect x="249.10" y="238.50" width="5.4" height="5.4" fill="none" stroke="#d41424" stroke-width="1.55"/>
<rect x="257.70" y="242.70" width="5.4" height="5.4" fill="none" stroke="#d41424" stroke-width="1.55"/>
<rect x="266.40" y="246.50" width="5.4" height="5.4" fill="none" stroke="#d41424" stroke-width="1.55"/>
<rect x="275.00" y="246.50" width="5.4" height="5.4" fill="none" stroke="#d41424" stroke-width="1.55"/>
<rect x="283.70" y="247.30" width="5.4" height="5.4" fill="none" stroke="#d41424" stroke-width="1.55"/>
<rect x="292.30" y="250.80" width="5.4" height="5.4" fill="none" stroke="#d41424" stroke-width="1.55"/>
<rect x="301.00" y="250.30" width="5.4" height="5.4" fill="none" stroke="#d41424" stroke-width="1.55"/>
<rect x="309.60" y="243.80" width="5.4" height="5.4" fill="none" stroke="#d41424" stroke-width="1.55"/>
<rect x="318.30" y="248.80" width="5.4" height="5.4" fill="none" stroke="#d41424" stroke-width="1.55"/>
<rect x="326.90" y="249.60" width="5.4" height="5.4" fill="none" stroke="#d41424" stroke-width="1.55"/>
<rect x="335.60" y="248.10" width="5.4" height="5.4" fill="none" stroke="#d41424" stroke-width="1.55"/>
<rect x="344.20" y="242.70" width="5.4" height="5.4" fill="none" stroke="#d41424" stroke-width="1.55"/>
<rect x="352.90" y="245.30" width="5.4" height="5.4" fill="none" stroke="#d41424" stroke-width="1.55"/>
<rect x="361.50" y="241.60" width="5.4" height="5.4" fill="none" stroke="#d41424" stroke-width="1.55"/>
<rect x="370.20" y="241.10" width="5.4" height="5.4" fill="none" stroke="#d41424" stroke-width="1.55"/>
<rect x="378.80" y="247.10" width="5.4" height="5.4" fill="none" stroke="#d41424" stroke-width="1.55"/>
<rect x="387.50" y="247.30" width="5.4" height="5.4" fill="none" stroke="#d41424" stroke-width="1.55"/>
<rect x="396.20" y="247.30" width="5.4" height="5.4" fill="none" stroke="#d41424" stroke-width="1.55"/>
<rect x="404.80" y="251.90" width="5.4" height="5.4" fill="none" stroke="#d41424" stroke-width="1.55"/>
<rect x="413.50" y="241.10" width="5.4" height="5.4" fill="none" stroke="#d41424" stroke-width="1.55"/>
<rect x="422.10" y="243.80" width="5.4" height="5.4" fill="none" stroke="#d41424" stroke-width="1.55"/>
<rect x="430.80" y="242.30" width="5.4" height="5.4" fill="none" stroke="#d41424" stroke-width="1.55"/>
<rect x="439.40" y="240.30" width="5.4" height="5.4" fill="none" stroke="#d41424" stroke-width="1.55"/>
<rect x="448.10" y="246.50" width="5.4" height="5.4" fill="none" stroke="#d41424" stroke-width="1.55"/>
</g>
<g clip-path="url(#clipc)"><polyline points="69.85,483.50 78.50,398.70 87.00,376.00 96.10,388.30 104.60,394.60 113.10,349.80 122.00,337.10 130.50,333.10 139.00,337.30 148.10,354.70 156.60,378.70 165.00,396.80 173.70,408.40 182.30,420.10 191.00,429.50 199.60,381.30 208.30,365.30 216.90,369.60 225.60,340.90 234.20,360.00 242.90,417.40 251.50,404.60 260.20,421.60 268.80,415.20 277.50,418.40 286.10,426.50 294.80,435.00 303.40,428.00 312.10,433.70 320.70,430.00 329.40,440.70 338.00,432.00 346.70,442.00 355.30,424.50 364.00,419.50 372.60,432.50 381.30,441.30 389.90,431.80 398.60,438.00 407.20,440.50 415.90,420.50 424.50,420.50 433.20,418.00 441.80,415.80 450.50,418.30" fill="none" stroke="#000" stroke-width="1.5" stroke-linejoin="round"/>
<rect x="75.80" y="396.00" width="5.4" height="5.4" fill="none" stroke="#000" stroke-width="1.55"/>
<rect x="84.30" y="373.30" width="5.4" height="5.4" fill="none" stroke="#000" stroke-width="1.55"/>
<rect x="93.40" y="385.60" width="5.4" height="5.4" fill="none" stroke="#000" stroke-width="1.55"/>
<rect x="101.90" y="391.90" width="5.4" height="5.4" fill="none" stroke="#000" stroke-width="1.55"/>
<rect x="110.40" y="347.10" width="5.4" height="5.4" fill="none" stroke="#000" stroke-width="1.55"/>
<rect x="119.30" y="334.40" width="5.4" height="5.4" fill="none" stroke="#000" stroke-width="1.55"/>
<rect x="127.80" y="330.40" width="5.4" height="5.4" fill="none" stroke="#000" stroke-width="1.55"/>
<rect x="136.30" y="334.60" width="5.4" height="5.4" fill="none" stroke="#000" stroke-width="1.55"/>
<rect x="145.40" y="352.00" width="5.4" height="5.4" fill="none" stroke="#000" stroke-width="1.55"/>
<rect x="153.90" y="376.00" width="5.4" height="5.4" fill="none" stroke="#000" stroke-width="1.55"/>
<rect x="162.30" y="394.10" width="5.4" height="5.4" fill="none" stroke="#000" stroke-width="1.55"/>
<rect x="171.00" y="405.70" width="5.4" height="5.4" fill="none" stroke="#000" stroke-width="1.55"/>
<rect x="179.60" y="417.40" width="5.4" height="5.4" fill="none" stroke="#000" stroke-width="1.55"/>
<rect x="188.30" y="426.80" width="5.4" height="5.4" fill="none" stroke="#000" stroke-width="1.55"/>
<rect x="196.90" y="378.60" width="5.4" height="5.4" fill="none" stroke="#000" stroke-width="1.55"/>
<rect x="205.60" y="362.60" width="5.4" height="5.4" fill="none" stroke="#000" stroke-width="1.55"/>
<rect x="214.20" y="366.90" width="5.4" height="5.4" fill="none" stroke="#000" stroke-width="1.55"/>
<rect x="222.90" y="338.20" width="5.4" height="5.4" fill="none" stroke="#000" stroke-width="1.55"/>
<rect x="231.50" y="357.30" width="5.4" height="5.4" fill="none" stroke="#000" stroke-width="1.55"/>
<rect x="240.20" y="414.70" width="5.4" height="5.4" fill="none" stroke="#000" stroke-width="1.55"/>
<rect x="248.80" y="401.90" width="5.4" height="5.4" fill="none" stroke="#000" stroke-width="1.55"/>
<rect x="257.50" y="418.90" width="5.4" height="5.4" fill="none" stroke="#000" stroke-width="1.55"/>
<rect x="266.10" y="412.50" width="5.4" height="5.4" fill="none" stroke="#000" stroke-width="1.55"/>
<rect x="274.80" y="415.70" width="5.4" height="5.4" fill="none" stroke="#000" stroke-width="1.55"/>
<rect x="283.40" y="423.80" width="5.4" height="5.4" fill="none" stroke="#000" stroke-width="1.55"/>
<rect x="292.10" y="432.30" width="5.4" height="5.4" fill="none" stroke="#000" stroke-width="1.55"/>
<rect x="300.70" y="425.30" width="5.4" height="5.4" fill="none" stroke="#000" stroke-width="1.55"/>
<rect x="309.40" y="431.00" width="5.4" height="5.4" fill="none" stroke="#000" stroke-width="1.55"/>
<rect x="318.00" y="427.30" width="5.4" height="5.4" fill="none" stroke="#000" stroke-width="1.55"/>
<rect x="326.70" y="438.00" width="5.4" height="5.4" fill="none" stroke="#000" stroke-width="1.55"/>
<rect x="335.30" y="429.30" width="5.4" height="5.4" fill="none" stroke="#000" stroke-width="1.55"/>
<rect x="344.00" y="439.30" width="5.4" height="5.4" fill="none" stroke="#000" stroke-width="1.55"/>
<rect x="352.60" y="421.80" width="5.4" height="5.4" fill="none" stroke="#000" stroke-width="1.55"/>
<rect x="361.30" y="416.80" width="5.4" height="5.4" fill="none" stroke="#000" stroke-width="1.55"/>
<rect x="369.90" y="429.80" width="5.4" height="5.4" fill="none" stroke="#000" stroke-width="1.55"/>
<rect x="378.60" y="438.60" width="5.4" height="5.4" fill="none" stroke="#000" stroke-width="1.55"/>
<rect x="387.20" y="429.10" width="5.4" height="5.4" fill="none" stroke="#000" stroke-width="1.55"/>
<rect x="395.90" y="435.30" width="5.4" height="5.4" fill="none" stroke="#000" stroke-width="1.55"/>
<rect x="404.50" y="437.80" width="5.4" height="5.4" fill="none" stroke="#000" stroke-width="1.55"/>
<rect x="413.20" y="417.80" width="5.4" height="5.4" fill="none" stroke="#000" stroke-width="1.55"/>
<rect x="421.80" y="417.80" width="5.4" height="5.4" fill="none" stroke="#000" stroke-width="1.55"/>
<rect x="430.50" y="415.30" width="5.4" height="5.4" fill="none" stroke="#000" stroke-width="1.55"/>
<rect x="439.10" y="413.10" width="5.4" height="5.4" fill="none" stroke="#000" stroke-width="1.55"/>
<rect x="447.80" y="415.60" width="5.4" height="5.4" fill="none" stroke="#000" stroke-width="1.55"/>
</g>
<g clip-path="url(#clipc)"><polyline points="69.85,463.50 78.50,405.30 87.00,425.80 96.10,423.70 104.60,419.90 113.10,364.90 122.00,373.40 130.50,363.20 139.00,370.60 148.10,363.60 156.60,432.90 165.00,435.00 173.70,428.00 182.30,433.70 191.00,435.80 199.60,404.60 208.30,397.80 216.90,389.80 225.60,403.60 234.20,382.30 242.90,435.00 251.50,435.00 260.20,447.70 268.80,432.90 277.50,438.00 286.10,441.30 294.80,451.80 303.40,446.40 312.10,435.80 320.70,452.40 329.40,446.40 338.00,437.00 346.70,434.50 355.30,437.50 364.00,445.00 372.60,443.00 381.30,442.00 389.90,447.50 398.60,453.80 407.20,446.30 415.90,442.50 424.50,450.50 433.20,433.80 441.80,442.00 450.50,439.50" fill="none" stroke="#d41424" stroke-width="1.5" stroke-linejoin="round"/>
<rect x="75.80" y="402.60" width="5.4" height="5.4" fill="none" stroke="#d41424" stroke-width="1.55"/>
<rect x="84.30" y="423.10" width="5.4" height="5.4" fill="none" stroke="#d41424" stroke-width="1.55"/>
<rect x="93.40" y="421.00" width="5.4" height="5.4" fill="none" stroke="#d41424" stroke-width="1.55"/>
<rect x="101.90" y="417.20" width="5.4" height="5.4" fill="none" stroke="#d41424" stroke-width="1.55"/>
<rect x="110.40" y="362.20" width="5.4" height="5.4" fill="none" stroke="#d41424" stroke-width="1.55"/>
<rect x="119.30" y="370.70" width="5.4" height="5.4" fill="none" stroke="#d41424" stroke-width="1.55"/>
<rect x="127.80" y="360.50" width="5.4" height="5.4" fill="none" stroke="#d41424" stroke-width="1.55"/>
<rect x="136.30" y="367.90" width="5.4" height="5.4" fill="none" stroke="#d41424" stroke-width="1.55"/>
<rect x="145.40" y="360.90" width="5.4" height="5.4" fill="none" stroke="#d41424" stroke-width="1.55"/>
<rect x="153.90" y="430.20" width="5.4" height="5.4" fill="none" stroke="#d41424" stroke-width="1.55"/>
<rect x="162.30" y="432.30" width="5.4" height="5.4" fill="none" stroke="#d41424" stroke-width="1.55"/>
<rect x="171.00" y="425.30" width="5.4" height="5.4" fill="none" stroke="#d41424" stroke-width="1.55"/>
<rect x="179.60" y="431.00" width="5.4" height="5.4" fill="none" stroke="#d41424" stroke-width="1.55"/>
<rect x="188.30" y="433.10" width="5.4" height="5.4" fill="none" stroke="#d41424" stroke-width="1.55"/>
<rect x="196.90" y="401.90" width="5.4" height="5.4" fill="none" stroke="#d41424" stroke-width="1.55"/>
<rect x="205.60" y="395.10" width="5.4" height="5.4" fill="none" stroke="#d41424" stroke-width="1.55"/>
<rect x="214.20" y="387.10" width="5.4" height="5.4" fill="none" stroke="#d41424" stroke-width="1.55"/>
<rect x="222.90" y="400.90" width="5.4" height="5.4" fill="none" stroke="#d41424" stroke-width="1.55"/>
<rect x="231.50" y="379.60" width="5.4" height="5.4" fill="none" stroke="#d41424" stroke-width="1.55"/>
<rect x="240.20" y="432.30" width="5.4" height="5.4" fill="none" stroke="#d41424" stroke-width="1.55"/>
<rect x="248.80" y="432.30" width="5.4" height="5.4" fill="none" stroke="#d41424" stroke-width="1.55"/>
<rect x="257.50" y="445.00" width="5.4" height="5.4" fill="none" stroke="#d41424" stroke-width="1.55"/>
<rect x="266.10" y="430.20" width="5.4" height="5.4" fill="none" stroke="#d41424" stroke-width="1.55"/>
<rect x="274.80" y="435.30" width="5.4" height="5.4" fill="none" stroke="#d41424" stroke-width="1.55"/>
<rect x="283.40" y="438.60" width="5.4" height="5.4" fill="none" stroke="#d41424" stroke-width="1.55"/>
<rect x="292.10" y="449.10" width="5.4" height="5.4" fill="none" stroke="#d41424" stroke-width="1.55"/>
<rect x="300.70" y="443.70" width="5.4" height="5.4" fill="none" stroke="#d41424" stroke-width="1.55"/>
<rect x="309.40" y="433.10" width="5.4" height="5.4" fill="none" stroke="#d41424" stroke-width="1.55"/>
<rect x="318.00" y="449.70" width="5.4" height="5.4" fill="none" stroke="#d41424" stroke-width="1.55"/>
<rect x="326.70" y="443.70" width="5.4" height="5.4" fill="none" stroke="#d41424" stroke-width="1.55"/>
<rect x="335.30" y="434.30" width="5.4" height="5.4" fill="none" stroke="#d41424" stroke-width="1.55"/>
<rect x="344.00" y="431.80" width="5.4" height="5.4" fill="none" stroke="#d41424" stroke-width="1.55"/>
<rect x="352.60" y="434.80" width="5.4" height="5.4" fill="none" stroke="#d41424" stroke-width="1.55"/>
<rect x="361.30" y="442.30" width="5.4" height="5.4" fill="none" stroke="#d41424" stroke-width="1.55"/>
<rect x="369.90" y="440.30" width="5.4" height="5.4" fill="none" stroke="#d41424" stroke-width="1.55"/>
<rect x="378.60" y="439.30" width="5.4" height="5.4" fill="none" stroke="#d41424" stroke-width="1.55"/>
<rect x="387.20" y="444.80" width="5.4" height="5.4" fill="none" stroke="#d41424" stroke-width="1.55"/>
<rect x="395.90" y="451.10" width="5.4" height="5.4" fill="none" stroke="#d41424" stroke-width="1.55"/>
<rect x="404.50" y="443.60" width="5.4" height="5.4" fill="none" stroke="#d41424" stroke-width="1.55"/>
<rect x="413.20" y="439.80" width="5.4" height="5.4" fill="none" stroke="#d41424" stroke-width="1.55"/>
<rect x="421.80" y="447.80" width="5.4" height="5.4" fill="none" stroke="#d41424" stroke-width="1.55"/>
<rect x="430.50" y="431.10" width="5.4" height="5.4" fill="none" stroke="#d41424" stroke-width="1.55"/>
<rect x="439.10" y="439.30" width="5.4" height="5.4" fill="none" stroke="#d41424" stroke-width="1.55"/>
<rect x="447.80" y="436.80" width="5.4" height="5.4" fill="none" stroke="#d41424" stroke-width="1.55"/>
</g>
<g clip-path="url(#clipd)"><polyline points="63.00,609.99 64.50,610.30 66.00,609.92 67.50,609.99 69.00,610.12 70.50,609.87 72.00,610.13 73.50,610.40 75.00,610.34 76.50,610.20 78.00,610.29 79.50,610.17 81.00,609.95 82.50,610.27 84.00,610.13 85.50,610.37 87.00,610.49 88.50,610.15 90.00,610.25 91.50,610.37 93.00,610.14 94.50,610.01 96.00,610.36 97.50,610.47 99.00,610.39 100.50,610.34 102.00,610.45 103.50,610.33 105.00,610.30 106.40,610.20 106.40,610.20 107.20,498.70 107.20,498.66 108.70,498.53 110.20,498.82 111.70,498.34 113.20,498.63 114.70,498.95 116.20,498.89 117.70,498.82 119.20,498.48 120.70,498.63 122.20,498.66 123.70,498.81 125.20,498.62 126.70,498.86 128.20,499.09 129.70,498.41 131.20,498.84 132.70,498.95 134.20,498.60 135.70,498.69 137.20,499.13 138.70,498.28 140.20,498.74 141.70,498.39 143.20,498.95 144.70,499.10 146.20,498.72 147.70,498.34 149.20,498.77 150.70,498.74 151.60,498.70 151.60,498.70 152.20,610.20 152.20,610.35 153.70,610.21 155.20,610.30 156.70,610.43 158.20,610.22 159.70,610.14 161.20,610.51 162.70,610.00 164.20,610.33 165.70,610.12 167.20,610.38 168.70,609.94 170.20,610.54 171.70,610.10 173.20,609.89 174.70,610.04 176.20,610.13 177.70,609.86 179.20,610.14 180.70,610.14 182.20,610.34 183.70,610.10 185.20,610.04 186.70,610.01 188.20,610.37 189.70,610.51 191.20,610.22 192.70,610.00 193.30,610.20 193.30,610.20 194.00,498.70 194.00,498.97 195.50,498.60 197.00,498.44 198.50,498.37 200.00,498.95 201.50,498.98 203.00,498.82 204.50,498.67 206.00,498.76 207.50,498.45 209.00,499.12 210.50,498.57 212.00,498.82 213.50,498.99 215.00,498.98 216.50,498.67 218.00,498.51 219.50,498.74 221.00,498.36 222.50,499.00 224.00,498.57 225.50,499.02 227.00,498.49 228.50,498.59 230.00,498.48 231.50,498.63 233.00,498.42 234.50,498.25 236.00,498.90 237.50,498.50 238.00,498.70 238.00,498.70 238.60,610.20 238.60,610.02 240.10,610.06 241.60,610.19 243.10,610.15 244.60,610.30 246.10,610.31 247.60,610.10 249.10,610.50 250.60,610.45 252.10,609.89 253.60,610.43 255.10,610.48 256.60,610.40 258.10,609.95 259.60,610.43 261.10,610.29 262.60,609.86 264.10,609.86 265.60,610.52 267.10,610.31 268.60,610.03 270.10,609.92 271.60,609.95 273.10,610.01 274.60,610.39 276.10,610.09 277.60,609.96 279.10,610.48 280.30,610.20 280.30,610.20 281.10,498.70 281.10,498.96 282.60,498.40 284.10,499.05 285.60,498.80 287.10,498.95 288.60,498.85 290.10,499.05 291.60,498.96 293.10,499.00 294.60,498.43 296.10,498.87 297.60,498.73 299.10,498.92 300.60,498.64 302.10,499.04 303.60,498.75 305.10,498.49 306.60,498.46 308.10,498.38 309.60,498.69 311.10,498.30 312.60,498.67 314.10,498.38 315.60,498.69 317.10,498.70 318.60,498.74 320.10,499.03 321.60,498.26 323.10,499.01 324.40,498.70 324.40,498.70 325.00,610.20 325.00,610.18 326.50,610.24 328.00,610.32 329.50,610.44 331.00,610.11 332.50,610.14 334.00,610.52 335.50,609.90 337.00,610.30 338.50,610.30 340.00,609.87 341.50,610.28 343.00,610.33 344.50,610.50 346.00,610.08 347.50,610.54 349.00,610.21 350.50,610.19 352.00,610.48 353.50,609.87 355.00,610.35 356.50,610.29 358.00,610.09 359.50,610.45 361.00,610.11 362.50,610.18 364.00,610.22 365.50,610.39 366.90,610.20 366.90,610.20 367.60,498.70 367.60,498.44 369.10,498.64 370.60,498.63 372.10,498.75 373.60,498.99 375.10,498.51 376.60,498.99 378.10,498.61 379.60,498.70 381.10,498.49 382.60,498.71 384.10,499.13 385.60,498.84 387.10,498.96 388.60,498.55 390.10,498.54 391.60,498.52 393.10,498.78 394.60,498.82 396.10,498.96 397.60,498.29 399.10,498.90 400.60,499.05 402.10,498.74 403.60,498.29 405.10,498.52 406.60,498.26 408.10,498.42 409.60,499.08 411.10,498.80 411.30,498.70 411.30,498.70 412.00,610.20 412.00,610.31 413.50,610.40 415.00,610.49 416.50,610.28 418.00,610.28 419.50,610.29 421.00,610.34 422.50,610.27 424.00,610.33 425.50,610.00 427.00,610.32 428.50,610.17 430.00,610.38 431.50,609.92 433.00,609.98 434.50,609.88 436.00,610.39 437.50,610.49 439.00,610.31 440.50,610.11 442.00,610.43 443.50,610.40 445.00,610.24 446.50,610.03 448.00,610.06 449.50,610.15 451.00,610.07 452.50,610.15 454.00,610.30 455.50,610.50 456.00,610.20" fill="none" stroke="#000" stroke-width="1.6" stroke-linejoin="miter"/>
<polyline points="63.00,609.99 64.50,610.30 66.00,609.92 67.50,609.99 69.00,610.12 70.50,609.87 72.00,610.13 73.50,610.40 75.00,610.34 76.50,610.20 78.00,610.29 79.50,610.17 81.00,609.95 82.50,610.27 84.00,610.13 85.50,610.37 87.00,610.49 88.50,610.15 90.00,610.25 91.50,610.37 93.00,610.14 94.50,610.01 96.00,610.36 97.50,610.47 99.00,610.39 100.50,610.34 102.00,610.45 103.50,610.33 105.00,610.30 106.40,610.20" fill="none" stroke="#000" stroke-width="2.7"/>
<polyline points="107.20,498.66 108.70,498.53 110.20,498.82 111.70,498.34 113.20,498.63 114.70,498.95 116.20,498.89 117.70,498.82 119.20,498.48 120.70,498.63 122.20,498.66 123.70,498.81 125.20,498.62 126.70,498.86 128.20,499.09 129.70,498.41 131.20,498.84 132.70,498.95 134.20,498.60 135.70,498.69 137.20,499.13 138.70,498.28 140.20,498.74 141.70,498.39 143.20,498.95 144.70,499.10 146.20,498.72 147.70,498.34 149.20,498.77 150.70,498.74 151.60,498.70" fill="none" stroke="#000" stroke-width="2.7"/>
<polyline points="152.20,610.35 153.70,610.21 155.20,610.30 156.70,610.43 158.20,610.22 159.70,610.14 161.20,610.51 162.70,610.00 164.20,610.33 165.70,610.12 167.20,610.38 168.70,609.94 170.20,610.54 171.70,610.10 173.20,609.89 174.70,610.04 176.20,610.13 177.70,609.86 179.20,610.14 180.70,610.14 182.20,610.34 183.70,610.10 185.20,610.04 186.70,610.01 188.20,610.37 189.70,610.51 191.20,610.22 192.70,610.00 193.30,610.20" fill="none" stroke="#000" stroke-width="2.7"/>
<polyline points="194.00,498.97 195.50,498.60 197.00,498.44 198.50,498.37 200.00,498.95 201.50,498.98 203.00,498.82 204.50,498.67 206.00,498.76 207.50,498.45 209.00,499.12 210.50,498.57 212.00,498.82 213.50,498.99 215.00,498.98 216.50,498.67 218.00,498.51 219.50,498.74 221.00,498.36 222.50,499.00 224.00,498.57 225.50,499.02 227.00,498.49 228.50,498.59 230.00,498.48 231.50,498.63 233.00,498.42 234.50,498.25 236.00,498.90 237.50,498.50 238.00,498.70" fill="none" stroke="#000" stroke-width="2.7"/>
<polyline points="238.60,610.02 240.10,610.06 241.60,610.19 243.10,610.15 244.60,610.30 246.10,610.31 247.60,610.10 249.10,610.50 250.60,610.45 252.10,609.89 253.60,610.43 255.10,610.48 256.60,610.40 258.10,609.95 259.60,610.43 261.10,610.29 262.60,609.86 264.10,609.86 265.60,610.52 267.10,610.31 268.60,610.03 270.10,609.92 271.60,609.95 273.10,610.01 274.60,610.39 276.10,610.09 277.60,609.96 279.10,610.48 280.30,610.20" fill="none" stroke="#000" stroke-width="2.7"/>
<polyline points="281.10,498.96 282.60,498.40 284.10,499.05 285.60,498.80 287.10,498.95 288.60,498.85 290.10,499.05 291.60,498.96 293.10,499.00 294.60,498.43 296.10,498.87 297.60,498.73 299.10,498.92 300.60,498.64 302.10,499.04 303.60,498.75 305.10,498.49 306.60,498.46 308.10,498.38 309.60,498.69 311.10,498.30 312.60,498.67 314.10,498.38 315.60,498.69 317.10,498.70 318.60,498.74 320.10,499.03 321.60,498.26 323.10,499.01 324.40,498.70" fill="none" stroke="#000" stroke-width="2.7"/>
<polyline points="325.00,610.18 326.50,610.24 328.00,610.32 329.50,610.44 331.00,610.11 332.50,610.14 334.00,610.52 335.50,609.90 337.00,610.30 338.50,610.30 340.00,609.87 341.50,610.28 343.00,610.33 344.50,610.50 346.00,610.08 347.50,610.54 349.00,610.21 350.50,610.19 352.00,610.48 353.50,609.87 355.00,610.35 356.50,610.29 358.00,610.09 359.50,610.45 361.00,610.11 362.50,610.18 364.00,610.22 365.50,610.39 366.90,610.20" fill="none" stroke="#000" stroke-width="2.7"/>
<polyline points="367.60,498.44 369.10,498.64 370.60,498.63 372.10,498.75 373.60,498.99 375.10,498.51 376.60,498.99 378.10,498.61 379.60,498.70 381.10,498.49 382.60,498.71 384.10,499.13 385.60,498.84 387.10,498.96 388.60,498.55 390.10,498.54 391.60,498.52 393.10,498.78 394.60,498.82 396.10,498.96 397.60,498.29 399.10,498.90 400.60,499.05 402.10,498.74 403.60,498.29 405.10,498.52 406.60,498.26 408.10,498.42 409.60,499.08 411.10,498.80 411.30,498.70" fill="none" stroke="#000" stroke-width="2.7"/>
<polyline points="412.00,610.31 413.50,610.40 415.00,610.49 416.50,610.28 418.00,610.28 419.50,610.29 421.00,610.34 422.50,610.27 424.00,610.33 425.50,610.00 427.00,610.32 428.50,610.17 430.00,610.38 431.50,609.92 433.00,609.98 434.50,609.88 436.00,610.39 437.50,610.49 439.00,610.31 440.50,610.11 442.00,610.43 443.50,610.40 445.00,610.24 446.50,610.03 448.00,610.06 449.50,610.15 451.00,610.07 452.50,610.15 454.00,610.30 455.50,610.50 456.00,610.20" fill="none" stroke="#000" stroke-width="2.7"/>
</g>
<path d="M73.17,157.5v-2.4M73.17,20.5v2.4 M90.50,157.5v-2.4M90.50,20.5v2.4 M107.83,157.5v-4.2M107.83,20.5v4.2 M125.17,157.5v-2.4M125.17,20.5v2.4 M142.50,157.5v-2.4M142.50,20.5v2.4 M159.83,157.5v-2.4M159.83,20.5v2.4 M177.17,157.5v-2.4M177.17,20.5v2.4 M194.50,157.5v-4.2M194.50,20.5v4.2 M211.83,157.5v-2.4M211.83,20.5v2.4 M229.17,157.5v-2.4M229.17,20.5v2.4 M246.50,157.5v-2.4M246.50,20.5v2.4 M263.83,157.5v-2.4M263.83,20.5v2.4 M281.17,157.5v-4.2M281.17,20.5v4.2 M298.50,157.5v-2.4M298.50,20.5v2.4 M315.83,157.5v-2.4M315.83,20.5v2.4 M333.17,157.5v-2.4M333.17,20.5v2.4 M350.50,157.5v-2.4M350.50,20.5v2.4 M367.83,157.5v-4.2M367.83,20.5v4.2 M385.17,157.5v-2.4M385.17,20.5v2.4 M402.50,157.5v-2.4M402.50,20.5v2.4 M419.83,157.5v-2.4M419.83,20.5v2.4 M437.17,157.5v-2.4M437.17,20.5v2.4 M454.50,157.5v-4.2M454.50,20.5v4.2 M64.5,157.50h2.4 M64.5,146.08h4.2 M64.5,134.67h2.4 M64.5,123.25h2.4 M64.5,111.83h2.4 M64.5,100.42h2.4 M64.5,89.00h4.2 M64.5,77.58h2.4 M64.5,66.17h2.4 M64.5,54.75h2.4 M64.5,43.33h2.4 M64.5,31.92h4.2 M64.5,20.50h2.4" stroke="#262626" stroke-width="1" fill="none"/>
<path d="M64.5,157.5H454.5 M64.5,20.5H454.5 M64.5,20.0V158.0" stroke="#262626" stroke-width="1" fill="none"/>
<path d="M454.5,146.08h-4.2 M454.5,131.81h-2.4 M454.5,117.54h-2.4 M454.5,103.27h-2.4 M454.5,89.00h-4.2 M454.5,74.73h-2.4 M454.5,60.46h-2.4 M454.5,46.19h-2.4 M454.5,31.92h-4.2 M454.5,20.0V158.0" stroke="#b8323c" stroke-width="1" fill="none"/>
<path d="M73.17,309.5v-2.4M73.17,171.5v2.4 M90.50,309.5v-2.4M90.50,171.5v2.4 M107.83,309.5v-4.2M107.83,171.5v4.2 M125.17,309.5v-2.4M125.17,171.5v2.4 M142.50,309.5v-2.4M142.50,171.5v2.4 M159.83,309.5v-2.4M159.83,171.5v2.4 M177.17,309.5v-2.4M177.17,171.5v2.4 M194.50,309.5v-4.2M194.50,171.5v4.2 M211.83,309.5v-2.4M211.83,171.5v2.4 M229.17,309.5v-2.4M229.17,171.5v2.4 M246.50,309.5v-2.4M246.50,171.5v2.4 M263.83,309.5v-2.4M263.83,171.5v2.4 M281.17,309.5v-4.2M281.17,171.5v4.2 M298.50,309.5v-2.4M298.50,171.5v2.4 M315.83,309.5v-2.4M315.83,171.5v2.4 M333.17,309.5v-2.4M333.17,171.5v2.4 M350.50,309.5v-2.4M350.50,171.5v2.4 M367.83,309.5v-4.2M367.83,171.5v4.2 M385.17,309.5v-2.4M385.17,171.5v2.4 M402.50,309.5v-2.4M402.50,171.5v2.4 M419.83,309.5v-2.4M419.83,171.5v2.4 M437.17,309.5v-2.4M437.17,171.5v2.4 M454.50,309.5v-4.2M454.50,171.5v4.2 M64.5,309.50h4.2 M64.5,296.95h2.4 M64.5,284.41h2.4 M64.5,271.86h2.4 M64.5,259.32h2.4 M64.5,246.77h4.2 M64.5,234.23h2.4 M64.5,221.68h2.4 M64.5,209.14h2.4 M64.5,196.59h2.4 M64.5,184.05h4.2 M64.5,171.50h2.4" stroke="#262626" stroke-width="1" fill="none"/>
<path d="M64.5,309.5H454.5 M64.5,171.5H454.5 M64.5,171.0V310.0" stroke="#262626" stroke-width="1" fill="none"/>
<path d="M454.5,309.50h-4.2 M454.5,295.70h-2.4 M454.5,281.90h-2.4 M454.5,268.10h-2.4 M454.5,254.30h-2.4 M454.5,240.50h-4.2 M454.5,226.70h-2.4 M454.5,212.90h-2.4 M454.5,199.10h-2.4 M454.5,185.30h-2.4 M454.5,171.50h-4.2 M454.5,171.0V310.0" stroke="#2626a6" stroke-width="1" fill="none"/>
<path d="M73.17,460.5v-2.4M73.17,323.5v2.4 M90.50,460.5v-2.4M90.50,323.5v2.4 M107.83,460.5v-4.2M107.83,323.5v4.2 M125.17,460.5v-2.4M125.17,323.5v2.4 M142.50,460.5v-2.4M142.50,323.5v2.4 M159.83,460.5v-2.4M159.83,323.5v2.4 M177.17,460.5v-2.4M177.17,323.5v2.4 M194.50,460.5v-4.2M194.50,323.5v4.2 M211.83,460.5v-2.4M211.83,323.5v2.4 M229.17,460.5v-2.4M229.17,323.5v2.4 M246.50,460.5v-2.4M246.50,323.5v2.4 M263.83,460.5v-2.4M263.83,323.5v2.4 M281.17,460.5v-4.2M281.17,323.5v4.2 M298.50,460.5v-2.4M298.50,323.5v2.4 M315.83,460.5v-2.4M315.83,323.5v2.4 M333.17,460.5v-2.4M333.17,323.5v2.4 M350.50,460.5v-2.4M350.50,323.5v2.4 M367.83,460.5v-4.2M367.83,323.5v4.2 M385.17,460.5v-2.4M385.17,323.5v2.4 M402.50,460.5v-2.4M402.50,323.5v2.4 M419.83,460.5v-2.4M419.83,323.5v2.4 M437.17,460.5v-2.4M437.17,323.5v2.4 M454.50,460.5v-4.2M454.50,323.5v4.2 M64.5,460.50h2.4 M454.5,460.50h-2.4 M64.5,451.94h2.4 M454.5,451.94h-2.4 M64.5,443.38h2.4 M454.5,443.38h-2.4 M64.5,434.81h4.2 M454.5,434.81h-4.2 M64.5,426.25h2.4 M454.5,426.25h-2.4 M64.5,417.69h2.4 M454.5,417.69h-2.4 M64.5,409.12h2.4 M454.5,409.12h-2.4 M64.5,400.56h2.4 M454.5,400.56h-2.4 M64.5,392.00h4.2 M454.5,392.00h-4.2 M64.5,383.44h2.4 M454.5,383.44h-2.4 M64.5,374.88h2.4 M454.5,374.88h-2.4 M64.5,366.31h2.4 M454.5,366.31h-2.4 M64.5,357.75h2.4 M454.5,357.75h-2.4 M64.5,349.19h4.2 M454.5,349.19h-4.2 M64.5,340.62h2.4 M454.5,340.62h-2.4 M64.5,332.06h2.4 M454.5,332.06h-2.4 M64.5,323.50h2.4 M454.5,323.50h-2.4" stroke="#262626" stroke-width="1" fill="none"/>
<path d="M64.5,460.5H454.5 M64.5,323.5H454.5 M64.5,323.0V461.0" stroke="#262626" stroke-width="1" fill="none"/>
<path d="M454.5,323.0V461.0" stroke="#262626" stroke-width="1" fill="none"/>
<path d="M73.17,611.5v-2.4M73.17,474.5v2.4 M90.50,611.5v-2.4M90.50,474.5v2.4 M107.83,611.5v-4.2M107.83,474.5v4.2 M125.17,611.5v-2.4M125.17,474.5v2.4 M142.50,611.5v-2.4M142.50,474.5v2.4 M159.83,611.5v-2.4M159.83,474.5v2.4 M177.17,611.5v-2.4M177.17,474.5v2.4 M194.50,611.5v-4.2M194.50,474.5v4.2 M211.83,611.5v-2.4M211.83,474.5v2.4 M229.17,611.5v-2.4M229.17,474.5v2.4 M246.50,611.5v-2.4M246.50,474.5v2.4 M263.83,611.5v-2.4M263.83,474.5v2.4 M281.17,611.5v-4.2M281.17,474.5v4.2 M298.50,611.5v-2.4M298.50,474.5v2.4 M315.83,611.5v-2.4M315.83,474.5v2.4 M333.17,611.5v-2.4M333.17,474.5v2.4 M350.50,611.5v-2.4M350.50,474.5v2.4 M367.83,611.5v-4.2M367.83,474.5v4.2 M385.17,611.5v-2.4M385.17,474.5v2.4 M402.50,611.5v-2.4M402.50,474.5v2.4 M419.83,611.5v-2.4M419.83,474.5v2.4 M437.17,611.5v-2.4M437.17,474.5v2.4 M454.50,611.5v-4.2M454.50,474.5v4.2 M64.5,611.50h4.2 M454.5,611.50h-4.2 M64.5,602.37h2.4 M454.5,602.37h-2.4 M64.5,593.23h2.4 M454.5,593.23h-2.4 M64.5,584.10h2.4 M454.5,584.10h-2.4 M64.5,574.97h2.4 M454.5,574.97h-2.4 M64.5,565.83h4.2 M454.5,565.83h-4.2 M64.5,556.70h2.4 M454.5,556.70h-2.4 M64.5,547.57h2.4 M454.5,547.57h-2.4 M64.5,538.43h2.4 M454.5,538.43h-2.4 M64.5,529.30h2.4 M454.5,529.30h-2.4 M64.5,520.17h4.2 M454.5,520.17h-4.2 M64.5,511.03h2.4 M454.5,511.03h-2.4 M64.5,501.90h2.4 M454.5,501.90h-2.4 M64.5,492.77h2.4 M454.5,492.77h-2.4 M64.5,483.63h2.4 M454.5,483.63h-2.4 M64.5,474.50h4.2 M454.5,474.50h-4.2" stroke="#262626" stroke-width="1" fill="none"/>
<path d="M64.5,611.5H454.5 M64.5,474.5H454.5 M64.5,474.0V612.0" stroke="#262626" stroke-width="1" fill="none"/>
<path d="M454.5,474.0V612.0" stroke="#262626" stroke-width="1" fill="none"/>
<rect x="254" y="108.5" width="107.5" height="75.0" fill="#fff" stroke="#262626" stroke-width="1"/>
<line x1="257.5" y1="122.5" x2="289.8" y2="122.5" stroke="#000" stroke-width="1.5"/>
<rect x="270.95" y="119.80" width="5.4" height="5.4" fill="none" stroke="#000" stroke-width="1.8"/>
<line x1="257.5" y1="146.25" x2="289.8" y2="146.25" stroke="#d41424" stroke-width="1.5"/>
<rect x="270.95" y="143.55" width="5.4" height="5.4" fill="none" stroke="#d41424" stroke-width="1.8"/>
<line x1="257.5" y1="170.75" x2="289.8" y2="170.75" stroke="#2828c4" stroke-width="1.2"/>
<rect x="344" y="329.7" width="101.30000000000001" height="53.10000000000002" fill="#fff" stroke="#262626" stroke-width="1"/>
<line x1="348.3" y1="344" x2="380" y2="344" stroke="#000" stroke-width="1.5"/>
<rect x="361.45" y="341.30" width="5.4" height="5.4" fill="none" stroke="#000" stroke-width="1.8"/>
<line x1="348.3" y1="369.2" x2="380" y2="369.2" stroke="#d41424" stroke-width="1.5"/>
<rect x="361.45" y="366.50" width="5.4" height="5.4" fill="none" stroke="#d41424" stroke-width="1.8"/>
<text x="65.83" y="15.5" font-size="19.4" font-weight="bold" font-style="normal" font-family="Liberation Sans" fill="#000" letter-spacing="0.029">#91771 n=1 with different phasing</text>
<text x="230.28" y="655.1" font-size="16" font-weight="bold" font-style="normal" font-family="Liberation Sans" fill="#000" letter-spacing="-0.318">Time (s)</text>
<text x="69.62" y="40.5" font-size="17" font-weight="bold" font-style="normal" font-family="Liberation Sans" fill="#000" letter-spacing="-0.050">(a)</text>
<text x="69.62" y="191.5" font-size="17" font-weight="bold" font-style="normal" font-family="Liberation Sans" fill="#000" letter-spacing="-0.550">(b)</text>
<text x="69.62" y="343.5" font-size="17" font-weight="bold" font-style="normal" font-family="Liberation Sans" fill="#000" letter-spacing="-0.050">(c)</text>
<text x="69.62" y="494.5" font-size="17" font-weight="bold" font-style="normal" font-family="Liberation Sans" fill="#000" letter-spacing="-0.550">(d)</text>
<text x="293.20" y="130.0" font-size="19" font-weight="normal" font-style="normal" font-family="Liberation Sans" fill="#000" letter-spacing="0.165"><tspan font-family="Liberation Serif" font-style="italic">ρ</tspan>=0.08</text>
<text x="293.20" y="153.8" font-size="19" font-weight="normal" font-style="normal" font-family="Liberation Sans" fill="#000" letter-spacing="0.131"><tspan font-family="Liberation Serif" font-style="italic">ρ</tspan>=0.5</text>
<text x="292.25" y="177.8" font-size="19" font-weight="normal" font-style="normal" font-family="Liberation Sans" fill="#000" letter-spacing="0.721">core Te</text>
<text x="384.25" y="350.5" font-size="19" font-weight="normal" font-style="normal" font-family="Liberation Sans" fill="#000" letter-spacing="0.125"><tspan font-family="Liberation Serif" font-style="italic">ρ</tspan>=0.08</text>
<text x="384.25" y="375.6" font-size="19" font-weight="normal" font-style="normal" font-family="Liberation Sans" fill="#000" letter-spacing="0.244"><tspan font-family="Liberation Serif" font-style="italic">ρ</tspan>=0.5</text>
<text x="126.88" y="542.1" font-size="17.2" font-weight="normal" font-style="normal" font-family="Liberation Sans" fill="#1a1a1a">0</text>
<text x="206.25" y="542.1" font-size="17.2" font-weight="normal" font-style="normal" font-family="Liberation Sans" fill="#1a1a1a" letter-spacing="0.850">90</text>
<text x="285.75" y="542.1" font-size="17.2" font-weight="normal" font-style="normal" font-family="Liberation Sans" fill="#1a1a1a" letter-spacing="-0.075">180</text>
<text x="374.93" y="542.1" font-size="17.2" font-weight="normal" font-style="normal" font-family="Liberation Sans" fill="#1a1a1a" letter-spacing="0.188">270</text>
<text transform="translate(21.2,135.85) rotate(-90)" x="0" y="0" font-size="18" font-weight="bold" font-style="normal" font-family="Liberation Sans" fill="#000">n</text>
<text transform="translate(29.7,124.10) rotate(-90)" x="0" y="0" font-size="13" font-weight="bold" font-style="normal" font-family="Liberation Sans" fill="#000">e</text>
<text transform="translate(21.2,117.28) rotate(-90)" x="0" y="0" font-size="18" font-weight="bold" font-style="normal" font-family="Liberation Sans" fill="#000" letter-spacing="-0.438">(10</text>
<text transform="translate(11.4,91.25) rotate(-90)" x="0" y="0" font-size="12.8" font-weight="bold" font-style="normal" font-family="Liberation Sans" fill="#000" letter-spacing="0.200">19</text>
<text transform="translate(21.2,76.25) rotate(-90)" x="0" y="0" font-size="18" font-weight="bold" font-style="normal" font-family="Liberation Sans" fill="#000">m</text>
<text transform="translate(11.4,59.50) rotate(-90)" x="0" y="0" font-size="12.8" font-weight="bold" font-style="normal" font-family="Liberation Sans" fill="#000" letter-spacing="0.925">-3</text>
<text transform="translate(21.2,46.40) rotate(-90)" x="0" y="0" font-size="18" font-weight="bold" font-style="normal" font-family="Liberation Sans" fill="#000">)</text>
<text transform="translate(508.1,128.20) rotate(-90)" x="0" y="0" font-size="18" font-weight="bold" font-style="normal" font-family="Liberation Sans" fill="#e00000">W</text>
<text transform="translate(516.6,110.58) rotate(-90)" x="0" y="0" font-size="13.5" font-weight="bold" font-style="normal" font-family="Liberation Sans" fill="#e00000" letter-spacing="0.425">mhd</text>
<text transform="translate(508.1,80.88) rotate(-90)" x="0" y="0" font-size="18" font-weight="bold" font-style="normal" font-family="Liberation Sans" fill="#e00000" letter-spacing="-0.350">(kJ)</text>
<text transform="translate(28.9,269.95) rotate(-90)" x="0" y="0" font-size="17.5" font-weight="bold" font-style="normal" font-family="Liberation Sans" fill="#000" letter-spacing="0.071">Ti(keV)</text>
<text transform="translate(502.2,266.75) rotate(-90)" x="0" y="0" font-size="17" font-weight="bold" font-style="normal" font-family="Liberation Sans" fill="#0000e0" letter-spacing="-0.312">Te(a.u)</text>
<text transform="translate(26.6,435.02) rotate(-90)" x="0" y="0" font-size="18" font-weight="normal" font-style="italic" font-family="Liberation Serif" fill="#000">ω</text>
<text transform="translate(34.2,422.18) rotate(-90)" x="0" y="0" font-size="15" font-weight="normal" font-style="italic" font-family="Liberation Serif" fill="#000">ϕ</text>
<text transform="translate(27.0,412.88) rotate(-90)" x="0" y="0" font-size="17.5" font-weight="bold" font-style="normal" font-family="Liberation Sans" fill="#000" letter-spacing="0.057">(krad/s)</text>
<text transform="translate(34.1,579.05) rotate(-90)" x="0" y="0" font-size="18" font-weight="bold" font-style="normal" font-family="Liberation Sans" fill="#000">I</text>
<text transform="translate(43.0,573.70) rotate(-90)" x="0" y="0" font-size="14" font-weight="bold" font-style="normal" font-family="Liberation Sans" fill="#000" letter-spacing="-0.012">RMP</text>
<text transform="translate(34.1,541.98) rotate(-90)" x="0" y="0" font-size="17" font-weight="bold" font-style="normal" font-family="Liberation Sans" fill="#000" letter-spacing="0.242">(kA)</text>
<circle cx="140.3" cy="525.8" r="1.8" fill="none" stroke="#333" stroke-width="0.9"/>
<circle cx="228.5" cy="525.8" r="1.8" fill="none" stroke="#333" stroke-width="0.9"/>
<circle cx="317.5" cy="525.8" r="1.8" fill="none" stroke="#333" stroke-width="0.9"/>
<circle cx="406.7" cy="525.8" r="1.8" fill="none" stroke="#333" stroke-width="0.9"/>
<text x="58.6" y="152.48" font-size="16" text-anchor="end" font-weight="normal" fill="#262626" >2.5</text>
<text x="58.6" y="95.4" font-size="16" text-anchor="end" font-weight="normal" fill="#262626" >3</text>
<text x="58.6" y="38.32" font-size="16" text-anchor="end" font-weight="normal" fill="#262626" >3.5</text>
<text x="460" y="152.48" font-size="16" text-anchor="start" font-weight="normal" fill="#b8323c" >60</text>
<text x="460" y="95.4" font-size="16" text-anchor="start" font-weight="normal" fill="#b8323c" >80</text>
<text x="460" y="38.32" font-size="16" text-anchor="start" font-weight="normal" fill="#b8323c" >100</text>
<text x="58.6" y="315.9" font-size="16" text-anchor="end" font-weight="normal" fill="#262626" >0</text>
<text x="58.6" y="253.17" font-size="16" text-anchor="end" font-weight="normal" fill="#262626" >0.5</text>
<text x="58.6" y="190.45" font-size="16" text-anchor="end" font-weight="normal" fill="#262626" >1</text>
<text x="460" y="315.9" font-size="16" text-anchor="start" font-weight="normal" fill="#2626a6" >0</text>
<text x="460" y="246.9" font-size="16" text-anchor="start" font-weight="normal" fill="#2626a6" >0.5</text>
<text x="460" y="177.9" font-size="16" text-anchor="start" font-weight="normal" fill="#2626a6" >1</text>
<text x="58.6" y="441.21" font-size="16" text-anchor="end" font-weight="normal" fill="#262626" >10</text>
<text x="58.6" y="398.4" font-size="16" text-anchor="end" font-weight="normal" fill="#262626" >15</text>
<text x="58.6" y="355.59" font-size="16" text-anchor="end" font-weight="normal" fill="#262626" >20</text>
<text x="58.6" y="617.9" font-size="16" text-anchor="end" font-weight="normal" fill="#262626" >0</text>
<text x="58.6" y="572.23" font-size="16" text-anchor="end" font-weight="normal" fill="#262626" >1</text>
<text x="58.6" y="526.57" font-size="16" text-anchor="end" font-weight="normal" fill="#262626" >2</text>
<text x="58.6" y="480.9" font-size="16" text-anchor="end" font-weight="normal" fill="#262626" >3</text>
<text x="107.83" y="634.2" font-size="16" text-anchor="middle" font-weight="normal" fill="#262626" >3</text>
<text x="194.5" y="634.2" font-size="16" text-anchor="middle" font-weight="normal" fill="#262626" >4</text>
<text x="281.17" y="634.2" font-size="16" text-anchor="middle" font-weight="normal" fill="#262626" >5</text>
<text x="367.83" y="634.2" font-size="16" text-anchor="middle" font-weight="normal" fill="#262626" >6</text>
<text x="454.5" y="634.2" font-size="16" text-anchor="middle" font-weight="normal" fill="#262626" >7</text>
</svg>
</body></html>
